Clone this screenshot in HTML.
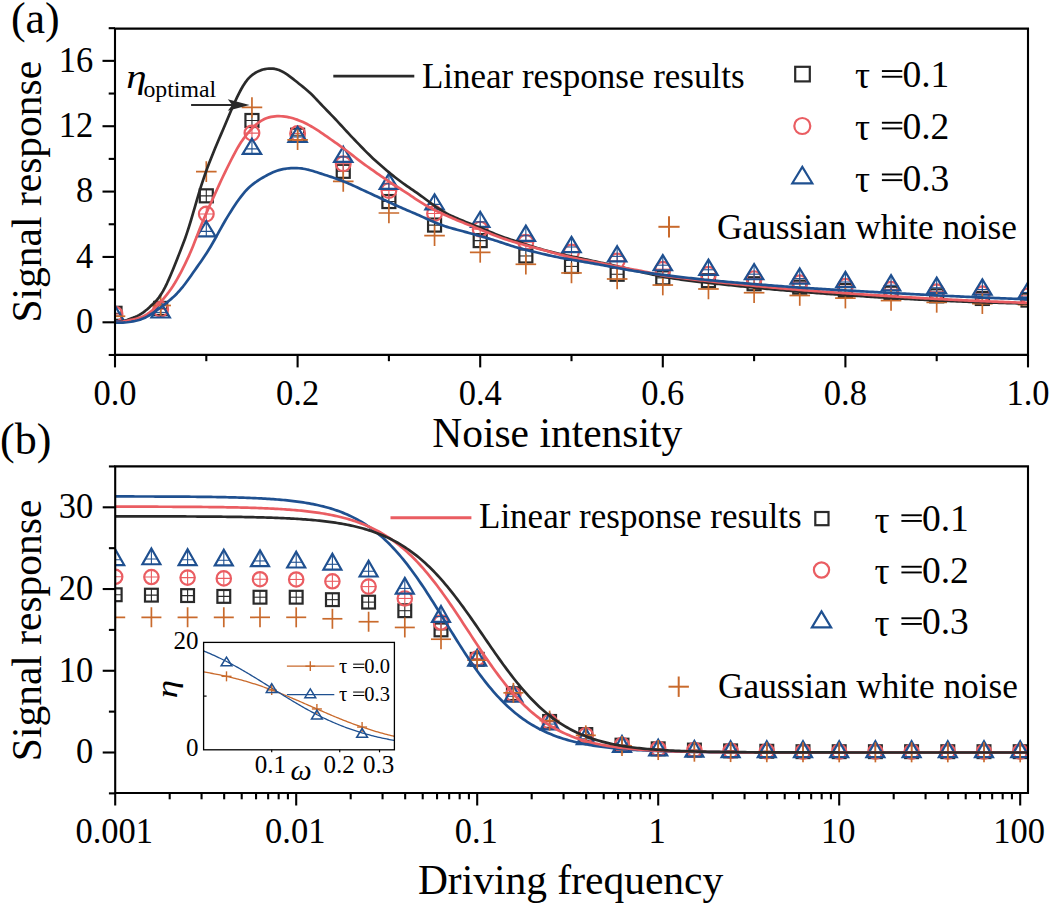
<!DOCTYPE html><html><head><meta charset="utf-8"><title>Signal response</title>
<style>html,body{margin:0;padding:0;background:#fff;overflow:hidden}svg{display:block}text{font-family:"Liberation Serif",serif}</style></head><body>
<svg width="1050" height="905" viewBox="0 0 1050 905" fill="#000">
<rect width="1050" height="905" fill="#fff"/>
<defs><clipPath id="ca"><rect x="115.0" y="28.6" width="913" height="326.3"/></clipPath><clipPath id="cb"><rect x="115.2" y="466.4" width="912.8" height="326.6"/></clipPath></defs>
<g clip-path="url(#ca)">
<rect x="108.5" y="306.81" width="13" height="13" fill="none" stroke="#2a2a2a" stroke-width="2.2"/>
<line x1="108.5" y1="313.31" x2="121.5" y2="313.31" stroke="#2a2a2a" stroke-width="1.1" stroke-linecap="butt"/>
<line x1="115" y1="306.81" x2="115" y2="319.81" stroke="#2a2a2a" stroke-width="1.1" stroke-linecap="butt"/>
<circle cx="115" cy="314.13" r="7.4" fill="none" stroke="#ea5d62" stroke-width="2.2"/>
<line x1="107.6" y1="314.13" x2="122.4" y2="314.13" stroke="#ea5d62" stroke-width="1.1" stroke-linecap="butt"/>
<line x1="115" y1="306.73" x2="115" y2="321.53" stroke="#ea5d62" stroke-width="1.1" stroke-linecap="butt"/>
<polygon points="115,305.88 124.2,321.08 105.8,321.08" fill="none" stroke="#1f5090" stroke-width="2.2" stroke-linejoin="miter"/>
<line x1="115" y1="305.88" x2="115" y2="321.08" stroke="#1f5090" stroke-width="1.1" stroke-linecap="butt"/>
<line x1="108.87" y1="316.01" x2="121.13" y2="316.01" stroke="#1f5090" stroke-width="1.1" stroke-linecap="butt"/>
<line x1="104.7" y1="316.25" x2="125.3" y2="316.25" stroke="#c96a2c" stroke-width="1.7" stroke-linecap="butt"/>
<line x1="115" y1="305.95" x2="115" y2="326.55" stroke="#c96a2c" stroke-width="1.7" stroke-linecap="butt"/>
<rect x="154.15" y="301.91" width="13" height="13" fill="none" stroke="#2a2a2a" stroke-width="2.2"/>
<line x1="154.15" y1="308.41" x2="167.15" y2="308.41" stroke="#2a2a2a" stroke-width="1.1" stroke-linecap="butt"/>
<line x1="160.65" y1="301.91" x2="160.65" y2="314.91" stroke="#2a2a2a" stroke-width="1.1" stroke-linecap="butt"/>
<circle cx="160.65" cy="309.23" r="7.4" fill="none" stroke="#ea5d62" stroke-width="2.2"/>
<line x1="153.25" y1="309.23" x2="168.05" y2="309.23" stroke="#ea5d62" stroke-width="1.1" stroke-linecap="butt"/>
<line x1="160.65" y1="301.83" x2="160.65" y2="316.63" stroke="#ea5d62" stroke-width="1.1" stroke-linecap="butt"/>
<polygon points="160.65,302.28 169.85,317.48 151.45,317.48" fill="none" stroke="#1f5090" stroke-width="2.2" stroke-linejoin="miter"/>
<line x1="160.65" y1="302.28" x2="160.65" y2="317.48" stroke="#1f5090" stroke-width="1.1" stroke-linecap="butt"/>
<line x1="154.52" y1="312.41" x2="166.78" y2="312.41" stroke="#1f5090" stroke-width="1.1" stroke-linecap="butt"/>
<line x1="150.35" y1="305.47" x2="170.95" y2="305.47" stroke="#c96a2c" stroke-width="1.7" stroke-linecap="butt"/>
<line x1="160.65" y1="295.17" x2="160.65" y2="315.77" stroke="#c96a2c" stroke-width="1.7" stroke-linecap="butt"/>
<rect x="199.8" y="189.33" width="13" height="13" fill="none" stroke="#2a2a2a" stroke-width="2.2"/>
<line x1="199.8" y1="195.83" x2="212.8" y2="195.83" stroke="#2a2a2a" stroke-width="1.1" stroke-linecap="butt"/>
<line x1="206.3" y1="189.33" x2="206.3" y2="202.33" stroke="#2a2a2a" stroke-width="1.1" stroke-linecap="butt"/>
<circle cx="206.3" cy="213.97" r="7.4" fill="none" stroke="#ea5d62" stroke-width="2.2"/>
<line x1="198.9" y1="213.97" x2="213.7" y2="213.97" stroke="#ea5d62" stroke-width="1.1" stroke-linecap="butt"/>
<line x1="206.3" y1="206.57" x2="206.3" y2="221.37" stroke="#ea5d62" stroke-width="1.1" stroke-linecap="butt"/>
<polygon points="206.3,221.24 215.5,236.44 197.1,236.44" fill="none" stroke="#1f5090" stroke-width="2.2" stroke-linejoin="miter"/>
<line x1="206.3" y1="221.24" x2="206.3" y2="236.44" stroke="#1f5090" stroke-width="1.1" stroke-linecap="butt"/>
<line x1="200.17" y1="231.37" x2="212.43" y2="231.37" stroke="#1f5090" stroke-width="1.1" stroke-linecap="butt"/>
<line x1="196" y1="171.65" x2="216.6" y2="171.65" stroke="#c96a2c" stroke-width="1.7" stroke-linecap="butt"/>
<line x1="206.3" y1="161.35" x2="206.3" y2="181.95" stroke="#c96a2c" stroke-width="1.7" stroke-linecap="butt"/>
<rect x="245.45" y="114" width="13" height="13" fill="none" stroke="#2a2a2a" stroke-width="2.2"/>
<line x1="245.45" y1="120.5" x2="258.45" y2="120.5" stroke="#2a2a2a" stroke-width="1.1" stroke-linecap="butt"/>
<line x1="251.95" y1="114" x2="251.95" y2="127" stroke="#2a2a2a" stroke-width="1.1" stroke-linecap="butt"/>
<circle cx="251.95" cy="133.08" r="7.4" fill="none" stroke="#ea5d62" stroke-width="2.2"/>
<line x1="244.55" y1="133.08" x2="259.35" y2="133.08" stroke="#ea5d62" stroke-width="1.1" stroke-linecap="butt"/>
<line x1="251.95" y1="125.68" x2="251.95" y2="140.48" stroke="#ea5d62" stroke-width="1.1" stroke-linecap="butt"/>
<polygon points="251.95,138.72 261.15,153.92 242.75,153.92" fill="none" stroke="#1f5090" stroke-width="2.2" stroke-linejoin="miter"/>
<line x1="251.95" y1="138.72" x2="251.95" y2="153.92" stroke="#1f5090" stroke-width="1.1" stroke-linecap="butt"/>
<line x1="245.82" y1="148.85" x2="258.08" y2="148.85" stroke="#1f5090" stroke-width="1.1" stroke-linecap="butt"/>
<line x1="241.65" y1="107.43" x2="262.25" y2="107.43" stroke="#c96a2c" stroke-width="1.7" stroke-linecap="butt"/>
<line x1="251.95" y1="97.13" x2="251.95" y2="117.73" stroke="#c96a2c" stroke-width="1.7" stroke-linecap="butt"/>
<rect x="291.1" y="128.71" width="13" height="13" fill="none" stroke="#2a2a2a" stroke-width="2.2"/>
<line x1="291.1" y1="135.21" x2="304.1" y2="135.21" stroke="#2a2a2a" stroke-width="1.1" stroke-linecap="butt"/>
<line x1="297.6" y1="128.71" x2="297.6" y2="141.71" stroke="#2a2a2a" stroke-width="1.1" stroke-linecap="butt"/>
<circle cx="297.6" cy="133.57" r="7.4" fill="none" stroke="#ea5d62" stroke-width="2.2"/>
<line x1="290.2" y1="133.57" x2="305" y2="133.57" stroke="#ea5d62" stroke-width="1.1" stroke-linecap="butt"/>
<line x1="297.6" y1="126.17" x2="297.6" y2="140.97" stroke="#ea5d62" stroke-width="1.1" stroke-linecap="butt"/>
<polygon points="297.6,126.79 306.8,141.99 288.4,141.99" fill="none" stroke="#1f5090" stroke-width="2.2" stroke-linejoin="miter"/>
<line x1="297.6" y1="126.79" x2="297.6" y2="141.99" stroke="#1f5090" stroke-width="1.1" stroke-linecap="butt"/>
<line x1="291.47" y1="136.92" x2="303.73" y2="136.92" stroke="#1f5090" stroke-width="1.1" stroke-linecap="butt"/>
<line x1="287.3" y1="139.78" x2="307.9" y2="139.78" stroke="#c96a2c" stroke-width="1.7" stroke-linecap="butt"/>
<line x1="297.6" y1="129.48" x2="297.6" y2="150.08" stroke="#c96a2c" stroke-width="1.7" stroke-linecap="butt"/>
<rect x="336.75" y="164.82" width="13" height="13" fill="none" stroke="#2a2a2a" stroke-width="2.2"/>
<line x1="336.75" y1="171.32" x2="349.75" y2="171.32" stroke="#2a2a2a" stroke-width="1.1" stroke-linecap="butt"/>
<line x1="343.25" y1="164.82" x2="343.25" y2="177.82" stroke="#2a2a2a" stroke-width="1.1" stroke-linecap="butt"/>
<circle cx="343.25" cy="163.8" r="7.4" fill="none" stroke="#ea5d62" stroke-width="2.2"/>
<line x1="335.85" y1="163.8" x2="350.65" y2="163.8" stroke="#ea5d62" stroke-width="1.1" stroke-linecap="butt"/>
<line x1="343.25" y1="156.4" x2="343.25" y2="171.2" stroke="#ea5d62" stroke-width="1.1" stroke-linecap="butt"/>
<polygon points="343.25,146.72 352.45,161.92 334.05,161.92" fill="none" stroke="#1f5090" stroke-width="2.2" stroke-linejoin="miter"/>
<line x1="343.25" y1="146.72" x2="343.25" y2="161.92" stroke="#1f5090" stroke-width="1.1" stroke-linecap="butt"/>
<line x1="337.12" y1="156.86" x2="349.38" y2="156.86" stroke="#1f5090" stroke-width="1.1" stroke-linecap="butt"/>
<line x1="332.95" y1="181.45" x2="353.55" y2="181.45" stroke="#c96a2c" stroke-width="1.7" stroke-linecap="butt"/>
<line x1="343.25" y1="171.15" x2="343.25" y2="191.75" stroke="#c96a2c" stroke-width="1.7" stroke-linecap="butt"/>
<rect x="382.4" y="195.05" width="13" height="13" fill="none" stroke="#2a2a2a" stroke-width="2.2"/>
<line x1="382.4" y1="201.55" x2="395.4" y2="201.55" stroke="#2a2a2a" stroke-width="1.1" stroke-linecap="butt"/>
<line x1="388.9" y1="195.05" x2="388.9" y2="208.05" stroke="#2a2a2a" stroke-width="1.1" stroke-linecap="butt"/>
<circle cx="388.9" cy="190.44" r="7.4" fill="none" stroke="#ea5d62" stroke-width="2.2"/>
<line x1="381.5" y1="190.44" x2="396.3" y2="190.44" stroke="#ea5d62" stroke-width="1.1" stroke-linecap="butt"/>
<line x1="388.9" y1="183.04" x2="388.9" y2="197.84" stroke="#ea5d62" stroke-width="1.1" stroke-linecap="butt"/>
<polygon points="388.9,173.69 398.1,188.89 379.7,188.89" fill="none" stroke="#1f5090" stroke-width="2.2" stroke-linejoin="miter"/>
<line x1="388.9" y1="173.69" x2="388.9" y2="188.89" stroke="#1f5090" stroke-width="1.1" stroke-linecap="butt"/>
<line x1="382.77" y1="183.82" x2="395.03" y2="183.82" stroke="#1f5090" stroke-width="1.1" stroke-linecap="butt"/>
<line x1="378.6" y1="212.99" x2="399.2" y2="212.99" stroke="#c96a2c" stroke-width="1.7" stroke-linecap="butt"/>
<line x1="388.9" y1="202.69" x2="388.9" y2="223.29" stroke="#c96a2c" stroke-width="1.7" stroke-linecap="butt"/>
<rect x="428.05" y="218.58" width="13" height="13" fill="none" stroke="#2a2a2a" stroke-width="2.2"/>
<line x1="428.05" y1="225.08" x2="441.05" y2="225.08" stroke="#2a2a2a" stroke-width="1.1" stroke-linecap="butt"/>
<line x1="434.55" y1="218.58" x2="434.55" y2="231.58" stroke="#2a2a2a" stroke-width="1.1" stroke-linecap="butt"/>
<circle cx="434.55" cy="213.48" r="7.4" fill="none" stroke="#ea5d62" stroke-width="2.2"/>
<line x1="427.15" y1="213.48" x2="441.95" y2="213.48" stroke="#ea5d62" stroke-width="1.1" stroke-linecap="butt"/>
<line x1="434.55" y1="206.08" x2="434.55" y2="220.88" stroke="#ea5d62" stroke-width="1.1" stroke-linecap="butt"/>
<polygon points="434.55,194.27 443.75,209.47 425.35,209.47" fill="none" stroke="#1f5090" stroke-width="2.2" stroke-linejoin="miter"/>
<line x1="434.55" y1="194.27" x2="434.55" y2="209.47" stroke="#1f5090" stroke-width="1.1" stroke-linecap="butt"/>
<line x1="428.42" y1="204.41" x2="440.68" y2="204.41" stroke="#1f5090" stroke-width="1.1" stroke-linecap="butt"/>
<line x1="424.25" y1="235.7" x2="444.85" y2="235.7" stroke="#c96a2c" stroke-width="1.7" stroke-linecap="butt"/>
<line x1="434.55" y1="225.4" x2="434.55" y2="246" stroke="#c96a2c" stroke-width="1.7" stroke-linecap="butt"/>
<rect x="473.7" y="234.1" width="13" height="13" fill="none" stroke="#2a2a2a" stroke-width="2.2"/>
<line x1="473.7" y1="240.6" x2="486.7" y2="240.6" stroke="#2a2a2a" stroke-width="1.1" stroke-linecap="butt"/>
<line x1="480.2" y1="234.1" x2="480.2" y2="247.1" stroke="#2a2a2a" stroke-width="1.1" stroke-linecap="butt"/>
<circle cx="480.2" cy="229.16" r="7.4" fill="none" stroke="#ea5d62" stroke-width="2.2"/>
<line x1="472.8" y1="229.16" x2="487.6" y2="229.16" stroke="#ea5d62" stroke-width="1.1" stroke-linecap="butt"/>
<line x1="480.2" y1="221.76" x2="480.2" y2="236.56" stroke="#ea5d62" stroke-width="1.1" stroke-linecap="butt"/>
<polygon points="480.2,211.76 489.4,226.96 471,226.96" fill="none" stroke="#1f5090" stroke-width="2.2" stroke-linejoin="miter"/>
<line x1="480.2" y1="211.76" x2="480.2" y2="226.96" stroke="#1f5090" stroke-width="1.1" stroke-linecap="butt"/>
<line x1="474.07" y1="221.89" x2="486.33" y2="221.89" stroke="#1f5090" stroke-width="1.1" stroke-linecap="butt"/>
<line x1="469.9" y1="252.36" x2="490.5" y2="252.36" stroke="#c96a2c" stroke-width="1.7" stroke-linecap="butt"/>
<line x1="480.2" y1="242.06" x2="480.2" y2="262.66" stroke="#c96a2c" stroke-width="1.7" stroke-linecap="butt"/>
<rect x="519.35" y="249.46" width="13" height="13" fill="none" stroke="#2a2a2a" stroke-width="2.2"/>
<line x1="519.35" y1="255.96" x2="532.35" y2="255.96" stroke="#2a2a2a" stroke-width="1.1" stroke-linecap="butt"/>
<line x1="525.85" y1="249.46" x2="525.85" y2="262.46" stroke="#2a2a2a" stroke-width="1.1" stroke-linecap="butt"/>
<circle cx="525.85" cy="242.23" r="7.4" fill="none" stroke="#ea5d62" stroke-width="2.2"/>
<line x1="518.45" y1="242.23" x2="533.25" y2="242.23" stroke="#ea5d62" stroke-width="1.1" stroke-linecap="butt"/>
<line x1="525.85" y1="234.83" x2="525.85" y2="249.63" stroke="#ea5d62" stroke-width="1.1" stroke-linecap="butt"/>
<polygon points="525.85,225.65 535.05,240.85 516.65,240.85" fill="none" stroke="#1f5090" stroke-width="2.2" stroke-linejoin="miter"/>
<line x1="525.85" y1="225.65" x2="525.85" y2="240.85" stroke="#1f5090" stroke-width="1.1" stroke-linecap="butt"/>
<line x1="519.72" y1="235.78" x2="531.98" y2="235.78" stroke="#1f5090" stroke-width="1.1" stroke-linecap="butt"/>
<line x1="515.55" y1="264.29" x2="536.15" y2="264.29" stroke="#c96a2c" stroke-width="1.7" stroke-linecap="butt"/>
<line x1="525.85" y1="253.99" x2="525.85" y2="274.59" stroke="#c96a2c" stroke-width="1.7" stroke-linecap="butt"/>
<rect x="565" y="259.92" width="13" height="13" fill="none" stroke="#2a2a2a" stroke-width="2.2"/>
<line x1="565" y1="266.42" x2="578" y2="266.42" stroke="#2a2a2a" stroke-width="1.1" stroke-linecap="butt"/>
<line x1="571.5" y1="259.92" x2="571.5" y2="272.92" stroke="#2a2a2a" stroke-width="1.1" stroke-linecap="butt"/>
<circle cx="571.5" cy="252.04" r="7.4" fill="none" stroke="#ea5d62" stroke-width="2.2"/>
<line x1="564.1" y1="252.04" x2="578.9" y2="252.04" stroke="#ea5d62" stroke-width="1.1" stroke-linecap="butt"/>
<line x1="571.5" y1="244.64" x2="571.5" y2="259.44" stroke="#ea5d62" stroke-width="1.1" stroke-linecap="butt"/>
<polygon points="571.5,236.92 580.7,252.12 562.3,252.12" fill="none" stroke="#1f5090" stroke-width="2.2" stroke-linejoin="miter"/>
<line x1="571.5" y1="236.92" x2="571.5" y2="252.12" stroke="#1f5090" stroke-width="1.1" stroke-linecap="butt"/>
<line x1="565.37" y1="247.05" x2="577.63" y2="247.05" stroke="#1f5090" stroke-width="1.1" stroke-linecap="butt"/>
<line x1="561.2" y1="272.95" x2="581.8" y2="272.95" stroke="#c96a2c" stroke-width="1.7" stroke-linecap="butt"/>
<line x1="571.5" y1="262.65" x2="571.5" y2="283.25" stroke="#c96a2c" stroke-width="1.7" stroke-linecap="butt"/>
<rect x="610.65" y="267.76" width="13" height="13" fill="none" stroke="#2a2a2a" stroke-width="2.2"/>
<line x1="610.65" y1="274.26" x2="623.65" y2="274.26" stroke="#2a2a2a" stroke-width="1.1" stroke-linecap="butt"/>
<line x1="617.15" y1="267.76" x2="617.15" y2="280.76" stroke="#2a2a2a" stroke-width="1.1" stroke-linecap="butt"/>
<circle cx="617.15" cy="261.03" r="7.4" fill="none" stroke="#ea5d62" stroke-width="2.2"/>
<line x1="609.75" y1="261.03" x2="624.55" y2="261.03" stroke="#ea5d62" stroke-width="1.1" stroke-linecap="butt"/>
<line x1="617.15" y1="253.63" x2="617.15" y2="268.43" stroke="#ea5d62" stroke-width="1.1" stroke-linecap="butt"/>
<polygon points="617.15,246.24 626.35,261.44 607.95,261.44" fill="none" stroke="#1f5090" stroke-width="2.2" stroke-linejoin="miter"/>
<line x1="617.15" y1="246.24" x2="617.15" y2="261.44" stroke="#1f5090" stroke-width="1.1" stroke-linecap="butt"/>
<line x1="611.02" y1="256.37" x2="623.28" y2="256.37" stroke="#1f5090" stroke-width="1.1" stroke-linecap="butt"/>
<line x1="606.85" y1="279" x2="627.45" y2="279" stroke="#c96a2c" stroke-width="1.7" stroke-linecap="butt"/>
<line x1="617.15" y1="268.7" x2="617.15" y2="289.3" stroke="#c96a2c" stroke-width="1.7" stroke-linecap="butt"/>
<rect x="656.3" y="271.36" width="13" height="13" fill="none" stroke="#2a2a2a" stroke-width="2.2"/>
<line x1="656.3" y1="277.86" x2="669.3" y2="277.86" stroke="#2a2a2a" stroke-width="1.1" stroke-linecap="butt"/>
<line x1="662.8" y1="271.36" x2="662.8" y2="284.36" stroke="#2a2a2a" stroke-width="1.1" stroke-linecap="butt"/>
<circle cx="662.8" cy="269.19" r="7.4" fill="none" stroke="#ea5d62" stroke-width="2.2"/>
<line x1="655.4" y1="269.19" x2="670.2" y2="269.19" stroke="#ea5d62" stroke-width="1.1" stroke-linecap="butt"/>
<line x1="662.8" y1="261.8" x2="662.8" y2="276.59" stroke="#ea5d62" stroke-width="1.1" stroke-linecap="butt"/>
<polygon points="662.8,255.06 672,270.26 653.6,270.26" fill="none" stroke="#1f5090" stroke-width="2.2" stroke-linejoin="miter"/>
<line x1="662.8" y1="255.06" x2="662.8" y2="270.26" stroke="#1f5090" stroke-width="1.1" stroke-linecap="butt"/>
<line x1="656.67" y1="265.19" x2="668.93" y2="265.19" stroke="#1f5090" stroke-width="1.1" stroke-linecap="butt"/>
<line x1="652.5" y1="285.04" x2="673.1" y2="285.04" stroke="#c96a2c" stroke-width="1.7" stroke-linecap="butt"/>
<line x1="662.8" y1="274.74" x2="662.8" y2="295.34" stroke="#c96a2c" stroke-width="1.7" stroke-linecap="butt"/>
<rect x="701.95" y="274.13" width="13" height="13" fill="none" stroke="#2a2a2a" stroke-width="2.2"/>
<line x1="701.95" y1="280.63" x2="714.95" y2="280.63" stroke="#2a2a2a" stroke-width="1.1" stroke-linecap="butt"/>
<line x1="708.45" y1="274.13" x2="708.45" y2="287.13" stroke="#2a2a2a" stroke-width="1.1" stroke-linecap="butt"/>
<circle cx="708.45" cy="274.26" r="7.4" fill="none" stroke="#ea5d62" stroke-width="2.2"/>
<line x1="701.05" y1="274.26" x2="715.85" y2="274.26" stroke="#ea5d62" stroke-width="1.1" stroke-linecap="butt"/>
<line x1="708.45" y1="266.86" x2="708.45" y2="281.66" stroke="#ea5d62" stroke-width="1.1" stroke-linecap="butt"/>
<polygon points="708.45,259.63 717.65,274.83 699.25,274.83" fill="none" stroke="#1f5090" stroke-width="2.2" stroke-linejoin="miter"/>
<line x1="708.45" y1="259.63" x2="708.45" y2="274.83" stroke="#1f5090" stroke-width="1.1" stroke-linecap="butt"/>
<line x1="702.32" y1="269.77" x2="714.58" y2="269.77" stroke="#1f5090" stroke-width="1.1" stroke-linecap="butt"/>
<line x1="698.15" y1="288.97" x2="718.75" y2="288.97" stroke="#c96a2c" stroke-width="1.7" stroke-linecap="butt"/>
<line x1="708.45" y1="278.67" x2="708.45" y2="299.27" stroke="#c96a2c" stroke-width="1.7" stroke-linecap="butt"/>
<rect x="747.6" y="277.24" width="13" height="13" fill="none" stroke="#2a2a2a" stroke-width="2.2"/>
<line x1="747.6" y1="283.74" x2="760.6" y2="283.74" stroke="#2a2a2a" stroke-width="1.1" stroke-linecap="butt"/>
<line x1="754.1" y1="277.24" x2="754.1" y2="290.24" stroke="#2a2a2a" stroke-width="1.1" stroke-linecap="butt"/>
<circle cx="754.1" cy="278.67" r="7.4" fill="none" stroke="#ea5d62" stroke-width="2.2"/>
<line x1="746.7" y1="278.67" x2="761.5" y2="278.67" stroke="#ea5d62" stroke-width="1.1" stroke-linecap="butt"/>
<line x1="754.1" y1="271.27" x2="754.1" y2="286.07" stroke="#ea5d62" stroke-width="1.1" stroke-linecap="butt"/>
<polygon points="754.1,264.05 763.3,279.25 744.9,279.25" fill="none" stroke="#1f5090" stroke-width="2.2" stroke-linejoin="miter"/>
<line x1="754.1" y1="264.05" x2="754.1" y2="279.25" stroke="#1f5090" stroke-width="1.1" stroke-linecap="butt"/>
<line x1="747.97" y1="274.18" x2="760.23" y2="274.18" stroke="#1f5090" stroke-width="1.1" stroke-linecap="butt"/>
<line x1="743.8" y1="292.72" x2="764.4" y2="292.72" stroke="#c96a2c" stroke-width="1.7" stroke-linecap="butt"/>
<line x1="754.1" y1="282.42" x2="754.1" y2="303.02" stroke="#c96a2c" stroke-width="1.7" stroke-linecap="butt"/>
<rect x="793.25" y="280.67" width="13" height="13" fill="none" stroke="#2a2a2a" stroke-width="2.2"/>
<line x1="793.25" y1="287.17" x2="806.25" y2="287.17" stroke="#2a2a2a" stroke-width="1.1" stroke-linecap="butt"/>
<line x1="799.75" y1="280.67" x2="799.75" y2="293.67" stroke="#2a2a2a" stroke-width="1.1" stroke-linecap="butt"/>
<circle cx="799.75" cy="282.76" r="7.4" fill="none" stroke="#ea5d62" stroke-width="2.2"/>
<line x1="792.35" y1="282.76" x2="807.15" y2="282.76" stroke="#ea5d62" stroke-width="1.1" stroke-linecap="butt"/>
<line x1="799.75" y1="275.36" x2="799.75" y2="290.16" stroke="#ea5d62" stroke-width="1.1" stroke-linecap="butt"/>
<polygon points="799.75,268.46 808.95,283.66 790.55,283.66" fill="none" stroke="#1f5090" stroke-width="2.2" stroke-linejoin="miter"/>
<line x1="799.75" y1="268.46" x2="799.75" y2="283.66" stroke="#1f5090" stroke-width="1.1" stroke-linecap="butt"/>
<line x1="793.62" y1="278.59" x2="805.88" y2="278.59" stroke="#1f5090" stroke-width="1.1" stroke-linecap="butt"/>
<line x1="789.45" y1="295.5" x2="810.05" y2="295.5" stroke="#c96a2c" stroke-width="1.7" stroke-linecap="butt"/>
<line x1="799.75" y1="285.2" x2="799.75" y2="305.8" stroke="#c96a2c" stroke-width="1.7" stroke-linecap="butt"/>
<rect x="838.9" y="284.1" width="13" height="13" fill="none" stroke="#2a2a2a" stroke-width="2.2"/>
<line x1="838.9" y1="290.6" x2="851.9" y2="290.6" stroke="#2a2a2a" stroke-width="1.1" stroke-linecap="butt"/>
<line x1="845.4" y1="284.1" x2="845.4" y2="297.1" stroke="#2a2a2a" stroke-width="1.1" stroke-linecap="butt"/>
<circle cx="845.4" cy="286.35" r="7.4" fill="none" stroke="#ea5d62" stroke-width="2.2"/>
<line x1="838" y1="286.35" x2="852.8" y2="286.35" stroke="#ea5d62" stroke-width="1.1" stroke-linecap="butt"/>
<line x1="845.4" y1="278.95" x2="845.4" y2="293.75" stroke="#ea5d62" stroke-width="1.1" stroke-linecap="butt"/>
<polygon points="845.4,271.89 854.6,287.09 836.2,287.09" fill="none" stroke="#1f5090" stroke-width="2.2" stroke-linejoin="miter"/>
<line x1="845.4" y1="271.89" x2="845.4" y2="287.09" stroke="#1f5090" stroke-width="1.1" stroke-linecap="butt"/>
<line x1="839.27" y1="282.02" x2="851.53" y2="282.02" stroke="#1f5090" stroke-width="1.1" stroke-linecap="butt"/>
<line x1="835.1" y1="298.12" x2="855.7" y2="298.12" stroke="#c96a2c" stroke-width="1.7" stroke-linecap="butt"/>
<line x1="845.4" y1="287.82" x2="845.4" y2="308.42" stroke="#c96a2c" stroke-width="1.7" stroke-linecap="butt"/>
<rect x="884.55" y="286.71" width="13" height="13" fill="none" stroke="#2a2a2a" stroke-width="2.2"/>
<line x1="884.55" y1="293.21" x2="897.55" y2="293.21" stroke="#2a2a2a" stroke-width="1.1" stroke-linecap="butt"/>
<line x1="891.05" y1="286.71" x2="891.05" y2="299.71" stroke="#2a2a2a" stroke-width="1.1" stroke-linecap="butt"/>
<circle cx="891.05" cy="289.29" r="7.4" fill="none" stroke="#ea5d62" stroke-width="2.2"/>
<line x1="883.65" y1="289.29" x2="898.45" y2="289.29" stroke="#ea5d62" stroke-width="1.1" stroke-linecap="butt"/>
<line x1="891.05" y1="281.89" x2="891.05" y2="296.69" stroke="#ea5d62" stroke-width="1.1" stroke-linecap="butt"/>
<polygon points="891.05,275.16 900.25,290.36 881.85,290.36" fill="none" stroke="#1f5090" stroke-width="2.2" stroke-linejoin="miter"/>
<line x1="891.05" y1="275.16" x2="891.05" y2="290.36" stroke="#1f5090" stroke-width="1.1" stroke-linecap="butt"/>
<line x1="884.92" y1="285.29" x2="897.18" y2="285.29" stroke="#1f5090" stroke-width="1.1" stroke-linecap="butt"/>
<line x1="880.75" y1="300.57" x2="901.35" y2="300.57" stroke="#c96a2c" stroke-width="1.7" stroke-linecap="butt"/>
<line x1="891.05" y1="290.27" x2="891.05" y2="310.87" stroke="#c96a2c" stroke-width="1.7" stroke-linecap="butt"/>
<rect x="930.2" y="289.33" width="13" height="13" fill="none" stroke="#2a2a2a" stroke-width="2.2"/>
<line x1="930.2" y1="295.83" x2="943.2" y2="295.83" stroke="#2a2a2a" stroke-width="1.1" stroke-linecap="butt"/>
<line x1="936.7" y1="289.33" x2="936.7" y2="302.33" stroke="#2a2a2a" stroke-width="1.1" stroke-linecap="butt"/>
<circle cx="936.7" cy="291.74" r="7.4" fill="none" stroke="#ea5d62" stroke-width="2.2"/>
<line x1="929.3" y1="291.74" x2="944.1" y2="291.74" stroke="#ea5d62" stroke-width="1.1" stroke-linecap="butt"/>
<line x1="936.7" y1="284.34" x2="936.7" y2="299.14" stroke="#ea5d62" stroke-width="1.1" stroke-linecap="butt"/>
<polygon points="936.7,277.61 945.9,292.81 927.5,292.81" fill="none" stroke="#1f5090" stroke-width="2.2" stroke-linejoin="miter"/>
<line x1="936.7" y1="277.61" x2="936.7" y2="292.81" stroke="#1f5090" stroke-width="1.1" stroke-linecap="butt"/>
<line x1="930.57" y1="287.74" x2="942.83" y2="287.74" stroke="#1f5090" stroke-width="1.1" stroke-linecap="butt"/>
<line x1="926.4" y1="302.37" x2="947" y2="302.37" stroke="#c96a2c" stroke-width="1.7" stroke-linecap="butt"/>
<line x1="936.7" y1="292.07" x2="936.7" y2="312.67" stroke="#c96a2c" stroke-width="1.7" stroke-linecap="butt"/>
<rect x="975.85" y="291.94" width="13" height="13" fill="none" stroke="#2a2a2a" stroke-width="2.2"/>
<line x1="975.85" y1="298.44" x2="988.85" y2="298.44" stroke="#2a2a2a" stroke-width="1.1" stroke-linecap="butt"/>
<line x1="982.35" y1="291.94" x2="982.35" y2="304.94" stroke="#2a2a2a" stroke-width="1.1" stroke-linecap="butt"/>
<circle cx="982.35" cy="293.87" r="7.4" fill="none" stroke="#ea5d62" stroke-width="2.2"/>
<line x1="974.95" y1="293.87" x2="989.75" y2="293.87" stroke="#ea5d62" stroke-width="1.1" stroke-linecap="butt"/>
<line x1="982.35" y1="286.47" x2="982.35" y2="301.27" stroke="#ea5d62" stroke-width="1.1" stroke-linecap="butt"/>
<polygon points="982.35,279.41 991.55,294.61 973.15,294.61" fill="none" stroke="#1f5090" stroke-width="2.2" stroke-linejoin="miter"/>
<line x1="982.35" y1="279.41" x2="982.35" y2="294.61" stroke="#1f5090" stroke-width="1.1" stroke-linecap="butt"/>
<line x1="976.22" y1="289.54" x2="988.48" y2="289.54" stroke="#1f5090" stroke-width="1.1" stroke-linecap="butt"/>
<line x1="972.05" y1="303.67" x2="992.65" y2="303.67" stroke="#c96a2c" stroke-width="1.7" stroke-linecap="butt"/>
<line x1="982.35" y1="293.37" x2="982.35" y2="313.97" stroke="#c96a2c" stroke-width="1.7" stroke-linecap="butt"/>
<rect x="1021.5" y="293.58" width="13" height="13" fill="none" stroke="#2a2a2a" stroke-width="2.2"/>
<line x1="1021.5" y1="300.08" x2="1034.5" y2="300.08" stroke="#2a2a2a" stroke-width="1.1" stroke-linecap="butt"/>
<line x1="1028" y1="293.58" x2="1028" y2="306.58" stroke="#2a2a2a" stroke-width="1.1" stroke-linecap="butt"/>
<circle cx="1028" cy="295.83" r="7.4" fill="none" stroke="#ea5d62" stroke-width="2.2"/>
<line x1="1020.6" y1="295.83" x2="1035.4" y2="295.83" stroke="#ea5d62" stroke-width="1.1" stroke-linecap="butt"/>
<line x1="1028" y1="288.43" x2="1028" y2="303.23" stroke="#ea5d62" stroke-width="1.1" stroke-linecap="butt"/>
<polygon points="1028,282.35 1037.2,297.55 1018.8,297.55" fill="none" stroke="#1f5090" stroke-width="2.2" stroke-linejoin="miter"/>
<line x1="1028" y1="282.35" x2="1028" y2="297.55" stroke="#1f5090" stroke-width="1.1" stroke-linecap="butt"/>
<line x1="1021.87" y1="292.48" x2="1034.13" y2="292.48" stroke="#1f5090" stroke-width="1.1" stroke-linecap="butt"/>
<line x1="1017.7" y1="304.65" x2="1038.3" y2="304.65" stroke="#c96a2c" stroke-width="1.7" stroke-linecap="butt"/>
<line x1="1028" y1="294.35" x2="1028" y2="314.95" stroke="#c96a2c" stroke-width="1.7" stroke-linecap="butt"/>
<polyline points="115,322.64 117,322.42 119,322.14 121,321.74 123,321.23 125,320.63 127,319.98 129,319.28 131,318.58 133,317.83 135,317.02 137,316.12 139,315.09 141,313.91 143,312.58 145,311.08 147,309.43 149,307.67 151,305.82 153,303.93 155,301.96 157,299.79 159,297.29 161,294.38 163,291.08 165,287.37 167,283.3 169,278.93 171,274.31 173,269.48 175,264.51 177,259.46 179,254.37 181,249.26 183,244.08 185,238.67 187,232.92 189,226.76 191,220.25 193,213.48 195,206.56 197,199.65 199,192.9 201,186.44 203,180.31 205,174.47 207,168.91 209,163.59 211,158.45 213,153.46 215,148.59 217,143.8 219,139.06 221,134.35 223,129.66 225,124.95 227,120.23 229,115.51 231,110.82 233,106.21 235,101.73 237,97.42 239,93.32 241,89.5 243,86 245,82.9 247,80.18 249,77.88 251,75.96 253,74.37 255,73.03 257,71.88 259,70.92 261,70.14 263,69.53 265,69.08 267,68.77 269,68.6 271,68.56 273,68.67 275,68.95 277,69.42 279,70.07 281,70.91 283,71.92 285,73.1 287,74.4 289,75.81 291,77.3 293,78.85 295,80.44 297,82.06 299,83.68 301,85.3 303,86.91 305,88.55 307,90.23 309,91.98 311,93.83 313,95.79 315,97.85 317,99.97 319,102.1 321,104.23 323,106.32 325,108.4 327,110.46 329,112.52 331,114.59 333,116.67 335,118.78 337,120.91 339,123.07 341,125.25 343,127.43 345,129.61 347,131.78 349,133.92 351,136.05 353,138.16 355,140.26 357,142.34 359,144.42 361,146.49 363,148.54 365,150.58 367,152.6 369,154.58 371,156.52 373,158.42 375,160.26 377,162.06 379,163.83 381,165.58 383,167.3 385,169 387,170.69 389,172.35 391,173.99 393,175.61 395,177.21 397,178.77 399,180.3 401,181.79 403,183.24 405,184.67 407,186.07 409,187.46 411,188.83 413,190.21 415,191.59 417,192.98 419,194.39 421,195.81 423,197.26 425,198.73 427,200.23 429,201.72 431,203.21 433,204.68 435,206.12 437,207.52 439,208.86 441,210.14 443,211.35 445,212.49 447,213.57 449,214.61 451,215.59 453,216.54 455,217.45 457,218.33 459,219.2 461,220.04 463,220.87 465,221.69 467,222.5 469,223.31 471,224.11 473,224.91 475,225.71 477,226.51 479,227.31 481,228.12 483,228.93 485,229.75 487,230.58 489,231.41 491,232.25 493,233.08 495,233.9 497,234.71 499,235.49 501,236.24 503,236.96 505,237.66 507,238.34 509,239.01 511,239.66 513,240.31 515,240.95 517,241.59 519,242.24 521,242.88 523,243.53 525,244.17 527,244.82 529,245.45 531,246.09 533,246.71 535,247.33 537,247.94 539,248.53 541,249.12 543,249.69 545,250.25 547,250.8 549,251.33 551,251.85 553,252.35 555,252.84 557,253.31 559,253.77 561,254.21 563,254.64 565,255.07 567,255.49 569,255.9 571,256.32 573,256.73 575,257.15 577,257.56 579,257.98 581,258.41 583,258.83 585,259.25 587,259.68 589,260.11 591,260.54 593,260.97 595,261.41 597,261.84 599,262.28 601,262.72 603,263.16 605,263.6 607,264.04 609,264.49 611,264.93 613,265.38 615,265.83 617,266.29 619,266.74 621,267.2 623,267.66 625,268.13 627,268.59 629,269.06 631,269.53 633,270 635,270.48 637,270.95 639,271.42 641,271.88 643,272.35 645,272.81 647,273.26 649,273.71 651,274.15 653,274.59 655,275.01 657,275.43 659,275.83 661,276.23 663,276.61 665,276.98 667,277.34 669,277.69 671,278.02 673,278.35 675,278.66 677,278.97 679,279.26 681,279.55 683,279.83 685,280.1 687,280.37 689,280.62 691,280.88 693,281.12 695,281.36 697,281.6 699,281.83 701,282.06 703,282.28 705,282.51 707,282.73 709,282.95 711,283.16 713,283.38 715,283.6 717,283.81 719,284.02 721,284.24 723,284.45 725,284.66 727,284.86 729,285.07 731,285.28 733,285.48 735,285.69 737,285.89 739,286.09 741,286.29 743,286.49 745,286.69 747,286.89 749,287.08 751,287.28 753,287.47 755,287.67 757,287.86 759,288.05 761,288.24 763,288.43 765,288.62 767,288.8 769,288.99 771,289.17 773,289.36 775,289.54 777,289.72 779,289.9 781,290.08 783,290.25 785,290.43 787,290.6 789,290.77 791,290.95 793,291.12 795,291.28 797,291.45 799,291.62 801,291.78 803,291.94 805,292.11 807,292.27 809,292.42 811,292.58 813,292.74 815,292.89 817,293.05 819,293.2 821,293.35 823,293.5 825,293.65 827,293.79 829,293.94 831,294.09 833,294.23 835,294.37 837,294.51 839,294.66 841,294.8 843,294.93 845,295.07 847,295.21 849,295.35 851,295.48 853,295.62 855,295.75 857,295.88 859,296.01 861,296.14 863,296.27 865,296.4 867,296.53 869,296.66 871,296.79 873,296.91 875,297.04 877,297.16 879,297.28 881,297.4 883,297.52 885,297.65 887,297.76 889,297.88 891,298 893,298.12 895,298.23 897,298.35 899,298.46 901,298.57 903,298.68 905,298.8 907,298.91 909,299.02 911,299.12 913,299.23 915,299.34 917,299.44 919,299.55 921,299.65 923,299.75 925,299.86 927,299.96 929,300.06 931,300.16 933,300.26 935,300.35 937,300.45 939,300.54 941,300.64 943,300.73 945,300.82 947,300.91 949,301 951,301.09 953,301.18 955,301.26 957,301.35 959,301.43 961,301.51 963,301.6 965,301.68 967,301.75 969,301.83 971,301.91 973,301.98 975,302.05 977,302.13 979,302.2 981,302.27 983,302.33 985,302.4 987,302.46 989,302.53 991,302.59 993,302.65 995,302.71 997,302.77 999,302.83 1001,302.89 1003,302.94 1005,303 1007,303.05 1009,303.11 1011,303.16 1013,303.21 1015,303.27 1017,303.32 1019,303.37 1021,303.42 1023,303.47 1025,303.52 1027,303.57 1028,303.6" fill="none" stroke="#2a2a2a" stroke-width="2.7" stroke-linejoin="round" stroke-linecap="butt"/>
<polyline points="115,322.39 117,322.21 119,322.02 121,321.79 123,321.5 125,321.16 127,320.78 129,320.36 131,319.92 133,319.45 135,318.96 137,318.45 139,317.89 141,317.26 143,316.49 145,315.53 147,314.35 149,312.98 151,311.43 153,309.72 155,307.87 157,305.91 159,303.83 161,301.65 163,299.35 165,296.95 167,294.44 169,291.8 171,289 173,286.01 175,282.8 177,279.38 179,275.78 181,272.01 183,268.11 185,264.07 187,259.9 189,255.56 191,250.98 193,246.15 195,241.1 197,235.91 199,230.73 201,225.7 203,220.86 205,216.19 207,211.64 209,207.17 211,202.74 213,198.32 215,193.92 217,189.52 219,185.13 221,180.8 223,176.54 225,172.37 227,168.28 229,164.23 231,160.24 233,156.34 235,152.56 237,148.94 239,145.51 241,142.33 243,139.4 245,136.7 247,134.19 249,131.81 251,129.54 253,127.42 255,125.5 257,123.78 259,122.26 261,120.94 263,119.8 265,118.84 267,118.04 269,117.4 271,116.9 273,116.55 275,116.32 277,116.2 279,116.18 281,116.25 283,116.39 285,116.62 287,116.92 289,117.3 291,117.77 293,118.31 295,118.93 297,119.63 299,120.39 301,121.21 303,122.1 305,123.04 307,124.05 309,125.11 311,126.22 313,127.4 315,128.63 317,129.9 319,131.21 321,132.56 323,133.92 325,135.31 327,136.71 329,138.11 331,139.52 333,140.93 335,142.33 337,143.73 339,145.14 341,146.56 343,148 345,149.47 347,150.98 349,152.53 351,154.1 353,155.68 355,157.27 357,158.84 359,160.39 361,161.9 363,163.38 365,164.83 367,166.25 369,167.66 371,169.06 373,170.47 375,171.87 377,173.29 379,174.69 381,176.09 383,177.47 385,178.84 387,180.2 389,181.53 391,182.84 393,184.13 395,185.42 397,186.7 399,187.98 401,189.26 403,190.55 405,191.85 407,193.16 409,194.49 411,195.83 413,197.18 415,198.54 417,199.89 419,201.2 421,202.47 423,203.69 425,204.87 427,206 429,207.1 431,208.16 433,209.19 435,210.2 437,211.18 439,212.14 441,213.08 443,214.01 445,214.93 447,215.83 449,216.72 451,217.59 453,218.46 455,219.31 457,220.15 459,220.98 461,221.8 463,222.62 465,223.42 467,224.22 469,225.02 471,225.82 473,226.61 475,227.41 477,228.22 479,229.02 481,229.84 483,230.66 485,231.48 487,232.3 489,233.12 491,233.92 493,234.72 495,235.5 497,236.27 499,237.01 501,237.74 503,238.44 505,239.12 507,239.79 509,240.43 511,241.06 513,241.68 515,242.28 517,242.87 519,243.44 521,244.01 523,244.56 525,245.11 527,245.65 529,246.18 531,246.72 533,247.25 535,247.79 537,248.33 539,248.87 541,249.41 543,249.96 545,250.51 547,251.06 549,251.61 551,252.16 553,252.71 555,253.26 557,253.8 559,254.34 561,254.87 563,255.4 565,255.91 567,256.4 569,256.87 571,257.33 573,257.76 575,258.18 577,258.58 579,258.98 581,259.37 583,259.75 585,260.13 587,260.51 589,260.89 591,261.28 593,261.67 595,262.06 597,262.46 599,262.86 601,263.26 603,263.67 605,264.08 607,264.48 609,264.89 611,265.3 613,265.71 615,266.11 617,266.51 619,266.91 621,267.3 623,267.68 625,268.06 627,268.43 629,268.78 631,269.14 633,269.49 635,269.84 637,270.19 639,270.55 641,270.92 643,271.3 645,271.7 647,272.12 649,272.55 651,272.98 653,273.42 655,273.86 657,274.29 659,274.71 661,275.1 663,275.47 665,275.82 667,276.14 669,276.43 671,276.71 673,276.96 675,277.21 677,277.44 679,277.67 681,277.89 683,278.12 685,278.34 687,278.57 689,278.81 691,279.05 693,279.3 695,279.54 697,279.79 699,280.04 701,280.29 703,280.53 705,280.77 707,281.01 709,281.24 711,281.46 713,281.67 715,281.88 717,282.09 719,282.29 721,282.49 723,282.69 725,282.88 727,283.08 729,283.27 731,283.47 733,283.66 735,283.86 737,284.06 739,284.26 741,284.46 743,284.66 745,284.87 747,285.07 749,285.27 751,285.47 753,285.67 755,285.87 757,286.06 759,286.26 761,286.45 763,286.65 765,286.84 767,287.02 769,287.21 771,287.4 773,287.58 775,287.76 777,287.94 779,288.12 781,288.3 783,288.48 785,288.65 787,288.82 789,288.99 791,289.16 793,289.33 795,289.49 797,289.66 799,289.82 801,289.98 803,290.14 805,290.29 807,290.45 809,290.6 811,290.75 813,290.9 815,291.05 817,291.2 819,291.35 821,291.49 823,291.64 825,291.78 827,291.92 829,292.06 831,292.2 833,292.34 835,292.48 837,292.62 839,292.76 841,292.9 843,293.04 845,293.17 847,293.31 849,293.45 851,293.58 853,293.72 855,293.86 857,293.99 859,294.13 861,294.26 863,294.4 865,294.53 867,294.67 869,294.8 871,294.93 873,295.07 875,295.2 877,295.33 879,295.46 881,295.59 883,295.72 885,295.85 887,295.98 889,296.11 891,296.24 893,296.36 895,296.49 897,296.62 899,296.74 901,296.86 903,296.99 905,297.11 907,297.23 909,297.35 911,297.47 913,297.59 915,297.71 917,297.83 919,297.94 921,298.06 923,298.17 925,298.28 927,298.4 929,298.51 931,298.62 933,298.73 935,298.84 937,298.94 939,299.05 941,299.15 943,299.26 945,299.36 947,299.46 949,299.56 951,299.67 953,299.76 955,299.86 957,299.96 959,300.06 961,300.15 963,300.25 965,300.34 967,300.43 969,300.53 971,300.62 973,300.71 975,300.8 977,300.88 979,300.97 981,301.06 983,301.14 985,301.23 987,301.31 989,301.39 991,301.48 993,301.56 995,301.64 997,301.72 999,301.8 1001,301.87 1003,301.95 1005,302.03 1007,302.11 1009,302.18 1011,302.26 1013,302.34 1015,302.41 1017,302.49 1019,302.56 1021,302.64 1023,302.71 1025,302.79 1027,302.86 1028,302.9" fill="none" stroke="#ea5d62" stroke-width="2.7" stroke-linejoin="round" stroke-linecap="butt"/>
<polyline points="115,322.42 117,322.53 119,322.61 121,322.64 123,322.6 125,322.47 127,322.28 129,322.02 131,321.71 133,321.35 135,320.95 137,320.5 139,319.97 141,319.35 143,318.6 145,317.71 147,316.67 149,315.5 151,314.24 153,312.93 155,311.58 157,310.18 159,308.73 161,307.23 163,305.68 165,304.1 167,302.48 169,300.83 171,299.13 173,297.36 175,295.46 177,293.44 179,291.28 181,288.98 183,286.54 185,283.97 187,281.28 189,278.5 191,275.67 193,272.82 195,269.97 197,267.12 199,264.27 201,261.41 203,258.51 205,255.56 207,252.5 209,249.31 211,245.99 213,242.54 215,238.98 217,235.34 219,231.68 221,228.05 223,224.5 225,221.04 227,217.67 229,214.39 231,211.18 233,208.06 235,205.03 237,202.09 239,199.27 241,196.58 243,194.05 245,191.69 247,189.54 249,187.58 251,185.79 253,184.16 255,182.65 257,181.25 259,179.94 261,178.69 263,177.48 265,176.32 267,175.22 269,174.17 271,173.2 273,172.31 275,171.51 277,170.79 279,170.16 281,169.62 283,169.16 285,168.79 287,168.49 289,168.28 291,168.13 293,168.06 295,168.06 297,168.12 299,168.25 301,168.45 303,168.71 305,169.04 307,169.45 309,169.93 311,170.46 313,171.05 315,171.67 317,172.31 319,172.97 321,173.62 323,174.27 325,174.93 327,175.59 329,176.24 331,176.9 333,177.57 335,178.24 337,178.94 339,179.65 341,180.39 343,181.17 345,181.97 347,182.81 349,183.67 351,184.55 353,185.45 355,186.36 357,187.29 359,188.23 361,189.17 363,190.11 365,191.04 367,191.97 369,192.9 371,193.82 373,194.73 375,195.65 377,196.58 379,197.5 381,198.44 383,199.37 385,200.31 387,201.24 389,202.18 391,203.1 393,204.03 395,204.94 397,205.84 399,206.73 401,207.61 403,208.48 405,209.33 407,210.18 409,211.02 411,211.87 413,212.72 415,213.57 417,214.44 419,215.31 421,216.2 423,217.11 425,218.02 427,218.93 429,219.83 431,220.73 433,221.6 435,222.45 437,223.28 439,224.07 441,224.82 443,225.53 445,226.2 447,226.84 449,227.45 451,228.04 453,228.61 455,229.17 457,229.71 459,230.25 461,230.79 463,231.32 465,231.86 467,232.4 469,232.94 471,233.49 473,234.03 475,234.58 477,235.14 479,235.7 481,236.26 483,236.84 485,237.41 487,238 489,238.59 491,239.2 493,239.81 495,240.43 497,241.07 499,241.72 501,242.38 503,243.04 505,243.71 507,244.38 509,245.04 511,245.69 513,246.32 515,246.94 517,247.53 519,248.1 521,248.64 523,249.16 525,249.67 527,250.16 529,250.64 531,251.11 533,251.58 535,252.05 537,252.52 539,253 541,253.48 543,253.96 545,254.43 547,254.9 549,255.36 551,255.8 553,256.23 555,256.65 557,257.05 559,257.45 561,257.83 563,258.21 565,258.58 567,258.94 569,259.3 571,259.66 573,260.01 575,260.35 577,260.7 579,261.04 581,261.38 583,261.73 585,262.07 587,262.41 589,262.76 591,263.1 593,263.45 595,263.81 597,264.16 599,264.52 601,264.88 603,265.25 605,265.62 607,265.99 609,266.37 611,266.75 613,267.13 615,267.51 617,267.89 619,268.27 621,268.65 623,269.01 625,269.38 627,269.73 629,270.08 631,270.42 633,270.75 635,271.07 637,271.38 639,271.69 641,271.99 643,272.28 645,272.57 647,272.85 649,273.12 651,273.39 653,273.65 655,273.91 657,274.17 659,274.42 661,274.67 663,274.91 665,275.16 667,275.4 669,275.64 671,275.88 673,276.12 675,276.36 677,276.59 679,276.83 681,277.06 683,277.29 685,277.52 687,277.75 689,277.98 691,278.2 693,278.43 695,278.65 697,278.87 699,279.09 701,279.31 703,279.52 705,279.73 707,279.94 709,280.14 711,280.34 713,280.53 715,280.72 717,280.91 719,281.1 721,281.28 723,281.46 725,281.64 727,281.82 729,281.99 731,282.17 733,282.34 735,282.51 737,282.68 739,282.84 741,283.01 743,283.18 745,283.34 747,283.51 749,283.67 751,283.83 753,284 755,284.16 757,284.32 759,284.48 761,284.64 763,284.8 765,284.96 767,285.12 769,285.28 771,285.44 773,285.6 775,285.75 777,285.91 779,286.06 781,286.21 783,286.37 785,286.52 787,286.67 789,286.81 791,286.96 793,287.11 795,287.25 797,287.39 799,287.53 801,287.67 803,287.8 805,287.94 807,288.07 809,288.2 811,288.33 813,288.46 815,288.59 817,288.71 819,288.84 821,288.96 823,289.08 825,289.21 827,289.33 829,289.45 831,289.56 833,289.68 835,289.8 837,289.92 839,290.03 841,290.15 843,290.26 845,290.38 847,290.49 849,290.61 851,290.72 853,290.83 855,290.95 857,291.06 859,291.17 861,291.29 863,291.4 865,291.51 867,291.63 869,291.74 871,291.85 873,291.96 875,292.07 877,292.18 879,292.29 881,292.4 883,292.51 885,292.62 887,292.73 889,292.84 891,292.95 893,293.06 895,293.17 897,293.28 899,293.38 901,293.49 903,293.6 905,293.71 907,293.81 909,293.92 911,294.03 913,294.13 915,294.24 917,294.34 919,294.45 921,294.55 923,294.66 925,294.76 927,294.86 929,294.97 931,295.07 933,295.17 935,295.28 937,295.38 939,295.48 941,295.58 943,295.68 945,295.78 947,295.88 949,295.98 951,296.07 953,296.17 955,296.27 957,296.36 959,296.46 961,296.55 963,296.65 965,296.74 967,296.83 969,296.93 971,297.02 973,297.11 975,297.19 977,297.28 979,297.37 981,297.46 983,297.54 985,297.63 987,297.71 989,297.79 991,297.88 993,297.96 995,298.04 997,298.12 999,298.2 1001,298.28 1003,298.35 1005,298.43 1007,298.51 1009,298.58 1011,298.66 1013,298.74 1015,298.81 1017,298.89 1019,298.96 1021,299.04 1023,299.11 1025,299.19 1027,299.26 1028,299.3" fill="none" stroke="#1f5090" stroke-width="2.7" stroke-linejoin="round" stroke-linecap="butt"/>
</g>
<g stroke="#000" stroke-width="2.1" fill="none">
<path d="M115.0,354.9 V28.6 H1028.0 V354.9 Z"/>
</g>
<line x1="108.7" y1="354.98" x2="115" y2="354.98" stroke="#000" stroke-width="2.1" stroke-linecap="butt"/>
<line x1="102.5" y1="322.3" x2="115" y2="322.3" stroke="#000" stroke-width="2.1" stroke-linecap="butt"/>
<line x1="108.7" y1="289.62" x2="115" y2="289.62" stroke="#000" stroke-width="2.1" stroke-linecap="butt"/>
<line x1="102.5" y1="256.94" x2="115" y2="256.94" stroke="#000" stroke-width="2.1" stroke-linecap="butt"/>
<line x1="108.7" y1="224.26" x2="115" y2="224.26" stroke="#000" stroke-width="2.1" stroke-linecap="butt"/>
<line x1="102.5" y1="191.58" x2="115" y2="191.58" stroke="#000" stroke-width="2.1" stroke-linecap="butt"/>
<line x1="108.7" y1="158.9" x2="115" y2="158.9" stroke="#000" stroke-width="2.1" stroke-linecap="butt"/>
<line x1="102.5" y1="126.22" x2="115" y2="126.22" stroke="#000" stroke-width="2.1" stroke-linecap="butt"/>
<line x1="108.7" y1="93.54" x2="115" y2="93.54" stroke="#000" stroke-width="2.1" stroke-linecap="butt"/>
<line x1="102.5" y1="60.86" x2="115" y2="60.86" stroke="#000" stroke-width="2.1" stroke-linecap="butt"/>
<line x1="108.7" y1="28.18" x2="115" y2="28.18" stroke="#000" stroke-width="2.1" stroke-linecap="butt"/>
<line x1="115" y1="354.9" x2="115" y2="367.4" stroke="#000" stroke-width="2.1" stroke-linecap="butt"/>
<line x1="206.3" y1="354.9" x2="206.3" y2="361.2" stroke="#000" stroke-width="2.1" stroke-linecap="butt"/>
<line x1="297.6" y1="354.9" x2="297.6" y2="367.4" stroke="#000" stroke-width="2.1" stroke-linecap="butt"/>
<line x1="388.9" y1="354.9" x2="388.9" y2="361.2" stroke="#000" stroke-width="2.1" stroke-linecap="butt"/>
<line x1="480.2" y1="354.9" x2="480.2" y2="367.4" stroke="#000" stroke-width="2.1" stroke-linecap="butt"/>
<line x1="571.5" y1="354.9" x2="571.5" y2="361.2" stroke="#000" stroke-width="2.1" stroke-linecap="butt"/>
<line x1="662.8" y1="354.9" x2="662.8" y2="367.4" stroke="#000" stroke-width="2.1" stroke-linecap="butt"/>
<line x1="754.1" y1="354.9" x2="754.1" y2="361.2" stroke="#000" stroke-width="2.1" stroke-linecap="butt"/>
<line x1="845.4" y1="354.9" x2="845.4" y2="367.4" stroke="#000" stroke-width="2.1" stroke-linecap="butt"/>
<line x1="936.7" y1="354.9" x2="936.7" y2="361.2" stroke="#000" stroke-width="2.1" stroke-linecap="butt"/>
<line x1="1028" y1="354.9" x2="1028" y2="367.4" stroke="#000" stroke-width="2.1" stroke-linecap="butt"/>
<text transform="translate(93.2,333.2) scale(1,1.05)" font-size="34.5" text-anchor="end" >0</text>
<text transform="translate(93.2,267.84) scale(1,1.05)" font-size="34.5" text-anchor="end" >4</text>
<text transform="translate(93.2,202.48) scale(1,1.05)" font-size="34.5" text-anchor="end" >8</text>
<text transform="translate(93.2,137.12) scale(1,1.05)" font-size="34.5" text-anchor="end" >12</text>
<text transform="translate(93.2,71.76) scale(1,1.05)" font-size="34.5" text-anchor="end" >16</text>
<text transform="translate(115,404.6) scale(1,1.05)" font-size="34.5" text-anchor="middle" >0.0</text>
<text transform="translate(297.6,404.6) scale(1,1.05)" font-size="34.5" text-anchor="middle" >0.2</text>
<text transform="translate(480.2,404.6) scale(1,1.05)" font-size="34.5" text-anchor="middle" >0.4</text>
<text transform="translate(662.8,404.6) scale(1,1.05)" font-size="34.5" text-anchor="middle" >0.6</text>
<text transform="translate(845.4,404.6) scale(1,1.05)" font-size="34.5" text-anchor="middle" >0.8</text>
<text transform="translate(1028,404.6) scale(1,1.05)" font-size="34.5" text-anchor="middle" >1.0</text>
<text x="10.9" y="33.1" font-size="44" text-anchor="start" >(a)</text>
<text x="432.2" y="447.2" font-size="41.5" text-anchor="start" >Noise intensity</text>
<text transform="translate(40.8,322.5) rotate(-90)" font-size="41.5">Signal response</text>
<line x1="333.3" y1="76.1" x2="414.3" y2="76.1" stroke="#2a2a2a" stroke-width="2.7" stroke-linecap="butt"/>
<text x="421.9" y="87.5" font-size="35" text-anchor="start" >Linear response results</text>
<rect x="795.2" y="66.8" width="14.6" height="14.6" fill="none" stroke="#2a2a2a" stroke-width="2.2"/>
<circle cx="802.3" cy="126" r="8" fill="none" stroke="#ea5d62" stroke-width="2.2"/>
<polygon points="802.3,166.9 812.3,183.3 792.3,183.3" fill="none" stroke="#1f5090" stroke-width="2.2" stroke-linejoin="miter"/>
<line x1="658.4" y1="226.8" x2="679.6" y2="226.8" stroke="#c96a2c" stroke-width="2.0" stroke-linecap="butt"/>
<line x1="669" y1="216.2" x2="669" y2="237.4" stroke="#c96a2c" stroke-width="2.0" stroke-linecap="butt"/>
<text x="855.07" y="88.3" font-size="37.5" text-anchor="start" >τ</text>
<rect x="881.9" y="70.1" width="20.4" height="1.9"/>
<rect x="881.9" y="75.8" width="20.4" height="1.9"/>
<text x="902.38" y="87.1" font-size="37.5" text-anchor="start" >0.1</text>
<text x="855.07" y="140" font-size="37.5" text-anchor="start" >τ</text>
<rect x="881.9" y="121.8" width="20.4" height="1.9"/>
<rect x="881.9" y="127.5" width="20.4" height="1.9"/>
<text x="902.38" y="138.8" font-size="37.5" text-anchor="start" >0.2</text>
<text x="855.07" y="191.7" font-size="37.5" text-anchor="start" >τ</text>
<rect x="881.9" y="173.5" width="20.4" height="1.9"/>
<rect x="881.9" y="179.2" width="20.4" height="1.9"/>
<text x="902.38" y="190.5" font-size="37.5" text-anchor="start" >0.3</text>
<text x="717" y="238.5" font-size="35.3" text-anchor="start" >Gaussian white noise</text>
<text transform="translate(126.2,88.2) scale(1.24,1)" font-size="33" font-style="italic">η</text>
<text x="143.4" y="97.2" font-size="23.8" text-anchor="start" >optimal</text>
<line x1="191.1" y1="105" x2="232" y2="105" stroke="#2a2a2a" stroke-width="2.0" stroke-linecap="butt"/>
<polygon points="249.6,105 227.8,99.2 232.2,105 227.8,110.8" fill="#2a2a2a"/>
<g clip-path="url(#cb)">
<rect x="108.8" y="588.36" width="12.8" height="12.8" fill="none" stroke="#2a2a2a" stroke-width="2.2"/>
<line x1="108.8" y1="594.76" x2="121.6" y2="594.76" stroke="#2a2a2a" stroke-width="1.1" stroke-linecap="butt"/>
<line x1="115.2" y1="588.36" x2="115.2" y2="601.16" stroke="#2a2a2a" stroke-width="1.1" stroke-linecap="butt"/>
<circle cx="115.2" cy="576.78" r="7.2" fill="none" stroke="#ea5d62" stroke-width="2.2"/>
<line x1="108" y1="576.78" x2="122.4" y2="576.78" stroke="#ea5d62" stroke-width="1.1" stroke-linecap="butt"/>
<line x1="115.2" y1="569.58" x2="115.2" y2="583.98" stroke="#ea5d62" stroke-width="1.1" stroke-linecap="butt"/>
<polygon points="115.2,549.27 124.2,565.07 106.2,565.07" fill="none" stroke="#1f5090" stroke-width="2.2" stroke-linejoin="miter"/>
<line x1="115.2" y1="549.27" x2="115.2" y2="565.07" stroke="#1f5090" stroke-width="1.1" stroke-linecap="butt"/>
<line x1="109.2" y1="559.8" x2="121.2" y2="559.8" stroke="#1f5090" stroke-width="1.1" stroke-linecap="butt"/>
<line x1="105.2" y1="617.32" x2="125.2" y2="617.32" stroke="#c96a2c" stroke-width="1.7" stroke-linecap="butt"/>
<line x1="115.2" y1="607.32" x2="115.2" y2="627.32" stroke="#c96a2c" stroke-width="1.7" stroke-linecap="butt"/>
<rect x="145" y="588.77" width="12.8" height="12.8" fill="none" stroke="#2a2a2a" stroke-width="2.2"/>
<line x1="145" y1="595.17" x2="157.8" y2="595.17" stroke="#2a2a2a" stroke-width="1.1" stroke-linecap="butt"/>
<line x1="151.4" y1="588.77" x2="151.4" y2="601.57" stroke="#2a2a2a" stroke-width="1.1" stroke-linecap="butt"/>
<circle cx="151.4" cy="577.03" r="7.2" fill="none" stroke="#ea5d62" stroke-width="2.2"/>
<line x1="144.2" y1="577.03" x2="158.6" y2="577.03" stroke="#ea5d62" stroke-width="1.1" stroke-linecap="butt"/>
<line x1="151.4" y1="569.83" x2="151.4" y2="584.23" stroke="#ea5d62" stroke-width="1.1" stroke-linecap="butt"/>
<polygon points="151.4,548.45 160.4,564.25 142.4,564.25" fill="none" stroke="#1f5090" stroke-width="2.2" stroke-linejoin="miter"/>
<line x1="151.4" y1="548.45" x2="151.4" y2="564.25" stroke="#1f5090" stroke-width="1.1" stroke-linecap="butt"/>
<line x1="145.4" y1="558.98" x2="157.4" y2="558.98" stroke="#1f5090" stroke-width="1.1" stroke-linecap="butt"/>
<line x1="141.4" y1="617.32" x2="161.4" y2="617.32" stroke="#c96a2c" stroke-width="1.7" stroke-linecap="butt"/>
<line x1="151.4" y1="607.32" x2="151.4" y2="627.32" stroke="#c96a2c" stroke-width="1.7" stroke-linecap="butt"/>
<rect x="181.2" y="589.18" width="12.8" height="12.8" fill="none" stroke="#2a2a2a" stroke-width="2.2"/>
<line x1="181.2" y1="595.58" x2="194" y2="595.58" stroke="#2a2a2a" stroke-width="1.1" stroke-linecap="butt"/>
<line x1="187.6" y1="589.18" x2="187.6" y2="601.98" stroke="#2a2a2a" stroke-width="1.1" stroke-linecap="butt"/>
<circle cx="187.6" cy="577.6" r="7.2" fill="none" stroke="#ea5d62" stroke-width="2.2"/>
<line x1="180.4" y1="577.6" x2="194.8" y2="577.6" stroke="#ea5d62" stroke-width="1.1" stroke-linecap="butt"/>
<line x1="187.6" y1="570.4" x2="187.6" y2="584.8" stroke="#ea5d62" stroke-width="1.1" stroke-linecap="butt"/>
<polygon points="187.6,549.27 196.6,565.07 178.6,565.07" fill="none" stroke="#1f5090" stroke-width="2.2" stroke-linejoin="miter"/>
<line x1="187.6" y1="549.27" x2="187.6" y2="565.07" stroke="#1f5090" stroke-width="1.1" stroke-linecap="butt"/>
<line x1="181.6" y1="559.8" x2="193.6" y2="559.8" stroke="#1f5090" stroke-width="1.1" stroke-linecap="butt"/>
<line x1="177.6" y1="617.32" x2="197.6" y2="617.32" stroke="#c96a2c" stroke-width="1.7" stroke-linecap="butt"/>
<line x1="187.6" y1="607.32" x2="187.6" y2="627.32" stroke="#c96a2c" stroke-width="1.7" stroke-linecap="butt"/>
<rect x="217.4" y="590" width="12.8" height="12.8" fill="none" stroke="#2a2a2a" stroke-width="2.2"/>
<line x1="217.4" y1="596.4" x2="230.2" y2="596.4" stroke="#2a2a2a" stroke-width="1.1" stroke-linecap="butt"/>
<line x1="223.8" y1="590" x2="223.8" y2="602.8" stroke="#2a2a2a" stroke-width="1.1" stroke-linecap="butt"/>
<circle cx="223.8" cy="578.42" r="7.2" fill="none" stroke="#ea5d62" stroke-width="2.2"/>
<line x1="216.6" y1="578.42" x2="231" y2="578.42" stroke="#ea5d62" stroke-width="1.1" stroke-linecap="butt"/>
<line x1="223.8" y1="571.22" x2="223.8" y2="585.62" stroke="#ea5d62" stroke-width="1.1" stroke-linecap="butt"/>
<polygon points="223.8,549.67 232.8,565.47 214.8,565.47" fill="none" stroke="#1f5090" stroke-width="2.2" stroke-linejoin="miter"/>
<line x1="223.8" y1="549.67" x2="223.8" y2="565.47" stroke="#1f5090" stroke-width="1.1" stroke-linecap="butt"/>
<line x1="217.8" y1="560.21" x2="229.8" y2="560.21" stroke="#1f5090" stroke-width="1.1" stroke-linecap="butt"/>
<line x1="213.8" y1="617.32" x2="233.8" y2="617.32" stroke="#c96a2c" stroke-width="1.7" stroke-linecap="butt"/>
<line x1="223.8" y1="607.32" x2="223.8" y2="627.32" stroke="#c96a2c" stroke-width="1.7" stroke-linecap="butt"/>
<rect x="253.6" y="590.81" width="12.8" height="12.8" fill="none" stroke="#2a2a2a" stroke-width="2.2"/>
<line x1="253.6" y1="597.21" x2="266.4" y2="597.21" stroke="#2a2a2a" stroke-width="1.1" stroke-linecap="butt"/>
<line x1="260" y1="590.81" x2="260" y2="603.61" stroke="#2a2a2a" stroke-width="1.1" stroke-linecap="butt"/>
<circle cx="260" cy="579.23" r="7.2" fill="none" stroke="#ea5d62" stroke-width="2.2"/>
<line x1="252.8" y1="579.23" x2="267.2" y2="579.23" stroke="#ea5d62" stroke-width="1.1" stroke-linecap="butt"/>
<line x1="260" y1="572.03" x2="260" y2="586.43" stroke="#ea5d62" stroke-width="1.1" stroke-linecap="butt"/>
<polygon points="260,550.41 269,566.21 251,566.21" fill="none" stroke="#1f5090" stroke-width="2.2" stroke-linejoin="miter"/>
<line x1="260" y1="550.41" x2="260" y2="566.21" stroke="#1f5090" stroke-width="1.1" stroke-linecap="butt"/>
<line x1="254" y1="560.94" x2="266" y2="560.94" stroke="#1f5090" stroke-width="1.1" stroke-linecap="butt"/>
<line x1="250" y1="617.32" x2="270" y2="617.32" stroke="#c96a2c" stroke-width="1.7" stroke-linecap="butt"/>
<line x1="260" y1="607.32" x2="260" y2="627.32" stroke="#c96a2c" stroke-width="1.7" stroke-linecap="butt"/>
<rect x="289.8" y="590.81" width="12.8" height="12.8" fill="none" stroke="#2a2a2a" stroke-width="2.2"/>
<line x1="289.8" y1="597.21" x2="302.6" y2="597.21" stroke="#2a2a2a" stroke-width="1.1" stroke-linecap="butt"/>
<line x1="296.2" y1="590.81" x2="296.2" y2="603.61" stroke="#2a2a2a" stroke-width="1.1" stroke-linecap="butt"/>
<circle cx="296.2" cy="579.48" r="7.2" fill="none" stroke="#ea5d62" stroke-width="2.2"/>
<line x1="289" y1="579.48" x2="303.4" y2="579.48" stroke="#ea5d62" stroke-width="1.1" stroke-linecap="butt"/>
<line x1="296.2" y1="572.28" x2="296.2" y2="586.68" stroke="#ea5d62" stroke-width="1.1" stroke-linecap="butt"/>
<polygon points="296.2,551.72 305.2,567.52 287.2,567.52" fill="none" stroke="#1f5090" stroke-width="2.2" stroke-linejoin="miter"/>
<line x1="296.2" y1="551.72" x2="296.2" y2="567.52" stroke="#1f5090" stroke-width="1.1" stroke-linecap="butt"/>
<line x1="290.2" y1="562.25" x2="302.2" y2="562.25" stroke="#1f5090" stroke-width="1.1" stroke-linecap="butt"/>
<line x1="286.2" y1="617.32" x2="306.2" y2="617.32" stroke="#c96a2c" stroke-width="1.7" stroke-linecap="butt"/>
<line x1="296.2" y1="607.32" x2="296.2" y2="627.32" stroke="#c96a2c" stroke-width="1.7" stroke-linecap="butt"/>
<rect x="326" y="593.26" width="12.8" height="12.8" fill="none" stroke="#2a2a2a" stroke-width="2.2"/>
<line x1="326" y1="599.66" x2="338.8" y2="599.66" stroke="#2a2a2a" stroke-width="1.1" stroke-linecap="butt"/>
<line x1="332.4" y1="593.26" x2="332.4" y2="606.06" stroke="#2a2a2a" stroke-width="1.1" stroke-linecap="butt"/>
<circle cx="332.4" cy="581.28" r="7.2" fill="none" stroke="#ea5d62" stroke-width="2.2"/>
<line x1="325.2" y1="581.28" x2="339.6" y2="581.28" stroke="#ea5d62" stroke-width="1.1" stroke-linecap="butt"/>
<line x1="332.4" y1="574.08" x2="332.4" y2="588.48" stroke="#ea5d62" stroke-width="1.1" stroke-linecap="butt"/>
<polygon points="332.4,553.76 341.4,569.56 323.4,569.56" fill="none" stroke="#1f5090" stroke-width="2.2" stroke-linejoin="miter"/>
<line x1="332.4" y1="553.76" x2="332.4" y2="569.56" stroke="#1f5090" stroke-width="1.1" stroke-linecap="butt"/>
<line x1="326.4" y1="564.29" x2="338.4" y2="564.29" stroke="#1f5090" stroke-width="1.1" stroke-linecap="butt"/>
<line x1="322.4" y1="618.79" x2="342.4" y2="618.79" stroke="#c96a2c" stroke-width="1.7" stroke-linecap="butt"/>
<line x1="332.4" y1="608.79" x2="332.4" y2="628.79" stroke="#c96a2c" stroke-width="1.7" stroke-linecap="butt"/>
<rect x="362.2" y="595.72" width="12.8" height="12.8" fill="none" stroke="#2a2a2a" stroke-width="2.2"/>
<line x1="362.2" y1="602.12" x2="375" y2="602.12" stroke="#2a2a2a" stroke-width="1.1" stroke-linecap="butt"/>
<line x1="368.6" y1="595.72" x2="368.6" y2="608.52" stroke="#2a2a2a" stroke-width="1.1" stroke-linecap="butt"/>
<circle cx="368.6" cy="586.59" r="7.2" fill="none" stroke="#ea5d62" stroke-width="2.2"/>
<line x1="361.4" y1="586.59" x2="375.8" y2="586.59" stroke="#ea5d62" stroke-width="1.1" stroke-linecap="butt"/>
<line x1="368.6" y1="579.39" x2="368.6" y2="593.79" stroke="#ea5d62" stroke-width="1.1" stroke-linecap="butt"/>
<polygon points="368.6,560.71 377.6,576.51 359.6,576.51" fill="none" stroke="#1f5090" stroke-width="2.2" stroke-linejoin="miter"/>
<line x1="368.6" y1="560.71" x2="368.6" y2="576.51" stroke="#1f5090" stroke-width="1.1" stroke-linecap="butt"/>
<line x1="362.6" y1="571.24" x2="374.6" y2="571.24" stroke="#1f5090" stroke-width="1.1" stroke-linecap="butt"/>
<line x1="358.6" y1="621.73" x2="378.6" y2="621.73" stroke="#c96a2c" stroke-width="1.7" stroke-linecap="butt"/>
<line x1="368.6" y1="611.73" x2="368.6" y2="631.73" stroke="#c96a2c" stroke-width="1.7" stroke-linecap="butt"/>
<rect x="398.4" y="604.3" width="12.8" height="12.8" fill="none" stroke="#2a2a2a" stroke-width="2.2"/>
<line x1="398.4" y1="610.7" x2="411.2" y2="610.7" stroke="#2a2a2a" stroke-width="1.1" stroke-linecap="butt"/>
<line x1="404.8" y1="604.3" x2="404.8" y2="617.1" stroke="#2a2a2a" stroke-width="1.1" stroke-linecap="butt"/>
<circle cx="404.8" cy="598.44" r="7.2" fill="none" stroke="#ea5d62" stroke-width="2.2"/>
<line x1="397.6" y1="598.44" x2="412" y2="598.44" stroke="#ea5d62" stroke-width="1.1" stroke-linecap="butt"/>
<line x1="404.8" y1="591.24" x2="404.8" y2="605.64" stroke="#ea5d62" stroke-width="1.1" stroke-linecap="butt"/>
<polygon points="404.8,577.87 413.8,593.67 395.8,593.67" fill="none" stroke="#1f5090" stroke-width="2.2" stroke-linejoin="miter"/>
<line x1="404.8" y1="577.87" x2="404.8" y2="593.67" stroke="#1f5090" stroke-width="1.1" stroke-linecap="butt"/>
<line x1="398.8" y1="588.4" x2="410.8" y2="588.4" stroke="#1f5090" stroke-width="1.1" stroke-linecap="butt"/>
<line x1="394.8" y1="627.45" x2="414.8" y2="627.45" stroke="#c96a2c" stroke-width="1.7" stroke-linecap="butt"/>
<line x1="404.8" y1="617.45" x2="404.8" y2="637.45" stroke="#c96a2c" stroke-width="1.7" stroke-linecap="butt"/>
<rect x="434.6" y="623.5" width="12.8" height="12.8" fill="none" stroke="#2a2a2a" stroke-width="2.2"/>
<line x1="434.6" y1="629.9" x2="447.4" y2="629.9" stroke="#2a2a2a" stroke-width="1.1" stroke-linecap="butt"/>
<line x1="441" y1="623.5" x2="441" y2="636.3" stroke="#2a2a2a" stroke-width="1.1" stroke-linecap="butt"/>
<circle cx="441" cy="622.55" r="7.2" fill="none" stroke="#ea5d62" stroke-width="2.2"/>
<line x1="433.8" y1="622.55" x2="448.2" y2="622.55" stroke="#ea5d62" stroke-width="1.1" stroke-linecap="butt"/>
<line x1="441" y1="615.35" x2="441" y2="629.75" stroke="#ea5d62" stroke-width="1.1" stroke-linecap="butt"/>
<polygon points="441,606.07 450,621.87 432,621.87" fill="none" stroke="#1f5090" stroke-width="2.2" stroke-linejoin="miter"/>
<line x1="441" y1="606.07" x2="441" y2="621.87" stroke="#1f5090" stroke-width="1.1" stroke-linecap="butt"/>
<line x1="435" y1="616.6" x2="447" y2="616.6" stroke="#1f5090" stroke-width="1.1" stroke-linecap="butt"/>
<line x1="431" y1="639.22" x2="451" y2="639.22" stroke="#c96a2c" stroke-width="1.7" stroke-linecap="butt"/>
<line x1="441" y1="629.22" x2="441" y2="649.22" stroke="#c96a2c" stroke-width="1.7" stroke-linecap="butt"/>
<rect x="470.8" y="652.93" width="12.8" height="12.8" fill="none" stroke="#2a2a2a" stroke-width="2.2"/>
<line x1="470.8" y1="659.33" x2="483.6" y2="659.33" stroke="#2a2a2a" stroke-width="1.1" stroke-linecap="butt"/>
<line x1="477.2" y1="652.93" x2="477.2" y2="665.73" stroke="#2a2a2a" stroke-width="1.1" stroke-linecap="butt"/>
<circle cx="477.2" cy="658.51" r="7.2" fill="none" stroke="#ea5d62" stroke-width="2.2"/>
<line x1="470" y1="658.51" x2="484.4" y2="658.51" stroke="#ea5d62" stroke-width="1.1" stroke-linecap="butt"/>
<line x1="477.2" y1="651.31" x2="477.2" y2="665.71" stroke="#ea5d62" stroke-width="1.1" stroke-linecap="butt"/>
<polygon points="477.2,649.79 486.2,665.59 468.2,665.59" fill="none" stroke="#1f5090" stroke-width="2.2" stroke-linejoin="miter"/>
<line x1="477.2" y1="649.79" x2="477.2" y2="665.59" stroke="#1f5090" stroke-width="1.1" stroke-linecap="butt"/>
<line x1="471.2" y1="660.33" x2="483.2" y2="660.33" stroke="#1f5090" stroke-width="1.1" stroke-linecap="butt"/>
<line x1="467.2" y1="660.15" x2="487.2" y2="660.15" stroke="#c96a2c" stroke-width="1.7" stroke-linecap="butt"/>
<line x1="477.2" y1="650.15" x2="477.2" y2="670.15" stroke="#c96a2c" stroke-width="1.7" stroke-linecap="butt"/>
<rect x="507" y="687.25" width="12.8" height="12.8" fill="none" stroke="#2a2a2a" stroke-width="2.2"/>
<line x1="507" y1="693.65" x2="519.8" y2="693.65" stroke="#2a2a2a" stroke-width="1.1" stroke-linecap="butt"/>
<line x1="513.4" y1="687.25" x2="513.4" y2="700.05" stroke="#2a2a2a" stroke-width="1.1" stroke-linecap="butt"/>
<circle cx="513.4" cy="694.47" r="7.2" fill="none" stroke="#ea5d62" stroke-width="2.2"/>
<line x1="506.2" y1="694.47" x2="520.6" y2="694.47" stroke="#ea5d62" stroke-width="1.1" stroke-linecap="butt"/>
<line x1="513.4" y1="687.27" x2="513.4" y2="701.67" stroke="#ea5d62" stroke-width="1.1" stroke-linecap="butt"/>
<polygon points="513.4,685.75 522.4,701.55 504.4,701.55" fill="none" stroke="#1f5090" stroke-width="2.2" stroke-linejoin="miter"/>
<line x1="513.4" y1="685.75" x2="513.4" y2="701.55" stroke="#1f5090" stroke-width="1.1" stroke-linecap="butt"/>
<line x1="507.4" y1="696.29" x2="519.4" y2="696.29" stroke="#1f5090" stroke-width="1.1" stroke-linecap="butt"/>
<line x1="503.4" y1="692.84" x2="523.4" y2="692.84" stroke="#c96a2c" stroke-width="1.7" stroke-linecap="butt"/>
<line x1="513.4" y1="682.84" x2="513.4" y2="702.84" stroke="#c96a2c" stroke-width="1.7" stroke-linecap="butt"/>
<rect x="543.2" y="715.04" width="12.8" height="12.8" fill="none" stroke="#2a2a2a" stroke-width="2.2"/>
<line x1="543.2" y1="721.44" x2="556" y2="721.44" stroke="#2a2a2a" stroke-width="1.1" stroke-linecap="butt"/>
<line x1="549.6" y1="715.04" x2="549.6" y2="727.84" stroke="#2a2a2a" stroke-width="1.1" stroke-linecap="butt"/>
<circle cx="549.6" cy="721.85" r="7.2" fill="none" stroke="#ea5d62" stroke-width="2.2"/>
<line x1="542.4" y1="721.85" x2="556.8" y2="721.85" stroke="#ea5d62" stroke-width="1.1" stroke-linecap="butt"/>
<line x1="549.6" y1="714.65" x2="549.6" y2="729.05" stroke="#ea5d62" stroke-width="1.1" stroke-linecap="butt"/>
<polygon points="549.6,713.54 558.6,729.34 540.6,729.34" fill="none" stroke="#1f5090" stroke-width="2.2" stroke-linejoin="miter"/>
<line x1="549.6" y1="713.54" x2="549.6" y2="729.34" stroke="#1f5090" stroke-width="1.1" stroke-linecap="butt"/>
<line x1="543.6" y1="724.08" x2="555.6" y2="724.08" stroke="#1f5090" stroke-width="1.1" stroke-linecap="butt"/>
<line x1="539.6" y1="720.63" x2="559.6" y2="720.63" stroke="#c96a2c" stroke-width="1.7" stroke-linecap="butt"/>
<line x1="549.6" y1="710.63" x2="549.6" y2="730.63" stroke="#c96a2c" stroke-width="1.7" stroke-linecap="butt"/>
<rect x="579.4" y="728.12" width="12.8" height="12.8" fill="none" stroke="#2a2a2a" stroke-width="2.2"/>
<line x1="579.4" y1="734.52" x2="592.2" y2="734.52" stroke="#2a2a2a" stroke-width="1.1" stroke-linecap="butt"/>
<line x1="585.8" y1="728.12" x2="585.8" y2="740.92" stroke="#2a2a2a" stroke-width="1.1" stroke-linecap="butt"/>
<circle cx="585.8" cy="735.34" r="7.2" fill="none" stroke="#ea5d62" stroke-width="2.2"/>
<line x1="578.6" y1="735.34" x2="593" y2="735.34" stroke="#ea5d62" stroke-width="1.1" stroke-linecap="butt"/>
<line x1="585.8" y1="728.14" x2="585.8" y2="742.54" stroke="#ea5d62" stroke-width="1.1" stroke-linecap="butt"/>
<polygon points="585.8,728.25 594.8,744.05 576.8,744.05" fill="none" stroke="#1f5090" stroke-width="2.2" stroke-linejoin="miter"/>
<line x1="585.8" y1="728.25" x2="585.8" y2="744.05" stroke="#1f5090" stroke-width="1.1" stroke-linecap="butt"/>
<line x1="579.8" y1="738.79" x2="591.8" y2="738.79" stroke="#1f5090" stroke-width="1.1" stroke-linecap="butt"/>
<line x1="575.8" y1="735.34" x2="595.8" y2="735.34" stroke="#c96a2c" stroke-width="1.7" stroke-linecap="butt"/>
<line x1="585.8" y1="725.34" x2="585.8" y2="745.34" stroke="#c96a2c" stroke-width="1.7" stroke-linecap="butt"/>
<rect x="615.6" y="738.74" width="12.8" height="12.8" fill="none" stroke="#2a2a2a" stroke-width="2.2"/>
<line x1="615.6" y1="745.14" x2="628.4" y2="745.14" stroke="#2a2a2a" stroke-width="1.1" stroke-linecap="butt"/>
<line x1="622" y1="738.74" x2="622" y2="751.54" stroke="#2a2a2a" stroke-width="1.1" stroke-linecap="butt"/>
<circle cx="622" cy="745.14" r="7.2" fill="none" stroke="#ea5d62" stroke-width="2.2"/>
<line x1="614.8" y1="745.14" x2="629.2" y2="745.14" stroke="#ea5d62" stroke-width="1.1" stroke-linecap="butt"/>
<line x1="622" y1="737.94" x2="622" y2="752.34" stroke="#ea5d62" stroke-width="1.1" stroke-linecap="butt"/>
<polygon points="622,736.02 631,751.82 613,751.82" fill="none" stroke="#1f5090" stroke-width="2.2" stroke-linejoin="miter"/>
<line x1="622" y1="736.02" x2="622" y2="751.82" stroke="#1f5090" stroke-width="1.1" stroke-linecap="butt"/>
<line x1="616" y1="746.55" x2="628" y2="746.55" stroke="#1f5090" stroke-width="1.1" stroke-linecap="butt"/>
<line x1="612" y1="745.96" x2="632" y2="745.96" stroke="#c96a2c" stroke-width="1.7" stroke-linecap="butt"/>
<line x1="622" y1="735.96" x2="622" y2="755.96" stroke="#c96a2c" stroke-width="1.7" stroke-linecap="butt"/>
<rect x="651.8" y="742.42" width="12.8" height="12.8" fill="none" stroke="#2a2a2a" stroke-width="2.2"/>
<line x1="651.8" y1="748.82" x2="664.6" y2="748.82" stroke="#2a2a2a" stroke-width="1.1" stroke-linecap="butt"/>
<line x1="658.2" y1="742.42" x2="658.2" y2="755.22" stroke="#2a2a2a" stroke-width="1.1" stroke-linecap="butt"/>
<circle cx="658.2" cy="748.82" r="7.2" fill="none" stroke="#ea5d62" stroke-width="2.2"/>
<line x1="651" y1="748.82" x2="665.4" y2="748.82" stroke="#ea5d62" stroke-width="1.1" stroke-linecap="butt"/>
<line x1="658.2" y1="741.62" x2="658.2" y2="756.02" stroke="#ea5d62" stroke-width="1.1" stroke-linecap="butt"/>
<polygon points="658.2,739.7 667.2,755.5 649.2,755.5" fill="none" stroke="#1f5090" stroke-width="2.2" stroke-linejoin="miter"/>
<line x1="658.2" y1="739.7" x2="658.2" y2="755.5" stroke="#1f5090" stroke-width="1.1" stroke-linecap="butt"/>
<line x1="652.2" y1="750.23" x2="664.2" y2="750.23" stroke="#1f5090" stroke-width="1.1" stroke-linecap="butt"/>
<line x1="648.2" y1="750.05" x2="668.2" y2="750.05" stroke="#c96a2c" stroke-width="1.7" stroke-linecap="butt"/>
<line x1="658.2" y1="740.05" x2="658.2" y2="760.05" stroke="#c96a2c" stroke-width="1.7" stroke-linecap="butt"/>
<rect x="688" y="743.65" width="12.8" height="12.8" fill="none" stroke="#2a2a2a" stroke-width="2.2"/>
<line x1="688" y1="750.05" x2="700.8" y2="750.05" stroke="#2a2a2a" stroke-width="1.1" stroke-linecap="butt"/>
<line x1="694.4" y1="743.65" x2="694.4" y2="756.45" stroke="#2a2a2a" stroke-width="1.1" stroke-linecap="butt"/>
<circle cx="694.4" cy="750.05" r="7.2" fill="none" stroke="#ea5d62" stroke-width="2.2"/>
<line x1="687.2" y1="750.05" x2="701.6" y2="750.05" stroke="#ea5d62" stroke-width="1.1" stroke-linecap="butt"/>
<line x1="694.4" y1="742.85" x2="694.4" y2="757.25" stroke="#ea5d62" stroke-width="1.1" stroke-linecap="butt"/>
<polygon points="694.4,740.92 703.4,756.72 685.4,756.72" fill="none" stroke="#1f5090" stroke-width="2.2" stroke-linejoin="miter"/>
<line x1="694.4" y1="740.92" x2="694.4" y2="756.72" stroke="#1f5090" stroke-width="1.1" stroke-linecap="butt"/>
<line x1="688.4" y1="751.46" x2="700.4" y2="751.46" stroke="#1f5090" stroke-width="1.1" stroke-linecap="butt"/>
<line x1="684.4" y1="751.68" x2="704.4" y2="751.68" stroke="#c96a2c" stroke-width="1.7" stroke-linecap="butt"/>
<line x1="694.4" y1="741.68" x2="694.4" y2="761.68" stroke="#c96a2c" stroke-width="1.7" stroke-linecap="butt"/>
<rect x="724.2" y="744.47" width="12.8" height="12.8" fill="none" stroke="#2a2a2a" stroke-width="2.2"/>
<line x1="724.2" y1="750.87" x2="737" y2="750.87" stroke="#2a2a2a" stroke-width="1.1" stroke-linecap="butt"/>
<line x1="730.6" y1="744.47" x2="730.6" y2="757.27" stroke="#2a2a2a" stroke-width="1.1" stroke-linecap="butt"/>
<circle cx="730.6" cy="750.87" r="7.2" fill="none" stroke="#ea5d62" stroke-width="2.2"/>
<line x1="723.4" y1="750.87" x2="737.8" y2="750.87" stroke="#ea5d62" stroke-width="1.1" stroke-linecap="butt"/>
<line x1="730.6" y1="743.67" x2="730.6" y2="758.07" stroke="#ea5d62" stroke-width="1.1" stroke-linecap="butt"/>
<polygon points="730.6,741.33 739.6,757.13 721.6,757.13" fill="none" stroke="#1f5090" stroke-width="2.2" stroke-linejoin="miter"/>
<line x1="730.6" y1="741.33" x2="730.6" y2="757.13" stroke="#1f5090" stroke-width="1.1" stroke-linecap="butt"/>
<line x1="724.6" y1="751.86" x2="736.6" y2="751.86" stroke="#1f5090" stroke-width="1.1" stroke-linecap="butt"/>
<line x1="720.6" y1="752.09" x2="740.6" y2="752.09" stroke="#c96a2c" stroke-width="1.7" stroke-linecap="butt"/>
<line x1="730.6" y1="742.09" x2="730.6" y2="762.09" stroke="#c96a2c" stroke-width="1.7" stroke-linecap="butt"/>
<rect x="760.4" y="744.87" width="12.8" height="12.8" fill="none" stroke="#2a2a2a" stroke-width="2.2"/>
<line x1="760.4" y1="751.27" x2="773.2" y2="751.27" stroke="#2a2a2a" stroke-width="1.1" stroke-linecap="butt"/>
<line x1="766.8" y1="744.87" x2="766.8" y2="757.67" stroke="#2a2a2a" stroke-width="1.1" stroke-linecap="butt"/>
<circle cx="766.8" cy="751.27" r="7.2" fill="none" stroke="#ea5d62" stroke-width="2.2"/>
<line x1="759.6" y1="751.27" x2="774" y2="751.27" stroke="#ea5d62" stroke-width="1.1" stroke-linecap="butt"/>
<line x1="766.8" y1="744.07" x2="766.8" y2="758.47" stroke="#ea5d62" stroke-width="1.1" stroke-linecap="butt"/>
<polygon points="766.8,741.33 775.8,757.13 757.8,757.13" fill="none" stroke="#1f5090" stroke-width="2.2" stroke-linejoin="miter"/>
<line x1="766.8" y1="741.33" x2="766.8" y2="757.13" stroke="#1f5090" stroke-width="1.1" stroke-linecap="butt"/>
<line x1="760.8" y1="751.86" x2="772.8" y2="751.86" stroke="#1f5090" stroke-width="1.1" stroke-linecap="butt"/>
<line x1="756.8" y1="752.25" x2="776.8" y2="752.25" stroke="#c96a2c" stroke-width="1.7" stroke-linecap="butt"/>
<line x1="766.8" y1="742.25" x2="766.8" y2="762.25" stroke="#c96a2c" stroke-width="1.7" stroke-linecap="butt"/>
<rect x="796.6" y="745.28" width="12.8" height="12.8" fill="none" stroke="#2a2a2a" stroke-width="2.2"/>
<line x1="796.6" y1="751.68" x2="809.4" y2="751.68" stroke="#2a2a2a" stroke-width="1.1" stroke-linecap="butt"/>
<line x1="803" y1="745.28" x2="803" y2="758.08" stroke="#2a2a2a" stroke-width="1.1" stroke-linecap="butt"/>
<circle cx="803" cy="751.68" r="7.2" fill="none" stroke="#ea5d62" stroke-width="2.2"/>
<line x1="795.8" y1="751.68" x2="810.2" y2="751.68" stroke="#ea5d62" stroke-width="1.1" stroke-linecap="butt"/>
<line x1="803" y1="744.48" x2="803" y2="758.88" stroke="#ea5d62" stroke-width="1.1" stroke-linecap="butt"/>
<polygon points="803,741.33 812,757.13 794,757.13" fill="none" stroke="#1f5090" stroke-width="2.2" stroke-linejoin="miter"/>
<line x1="803" y1="741.33" x2="803" y2="757.13" stroke="#1f5090" stroke-width="1.1" stroke-linecap="butt"/>
<line x1="797" y1="751.86" x2="809" y2="751.86" stroke="#1f5090" stroke-width="1.1" stroke-linecap="butt"/>
<line x1="793" y1="752.34" x2="813" y2="752.34" stroke="#c96a2c" stroke-width="1.7" stroke-linecap="butt"/>
<line x1="803" y1="742.34" x2="803" y2="762.34" stroke="#c96a2c" stroke-width="1.7" stroke-linecap="butt"/>
<rect x="832.8" y="745.28" width="12.8" height="12.8" fill="none" stroke="#2a2a2a" stroke-width="2.2"/>
<line x1="832.8" y1="751.68" x2="845.6" y2="751.68" stroke="#2a2a2a" stroke-width="1.1" stroke-linecap="butt"/>
<line x1="839.2" y1="745.28" x2="839.2" y2="758.08" stroke="#2a2a2a" stroke-width="1.1" stroke-linecap="butt"/>
<circle cx="839.2" cy="751.68" r="7.2" fill="none" stroke="#ea5d62" stroke-width="2.2"/>
<line x1="832" y1="751.68" x2="846.4" y2="751.68" stroke="#ea5d62" stroke-width="1.1" stroke-linecap="butt"/>
<line x1="839.2" y1="744.48" x2="839.2" y2="758.88" stroke="#ea5d62" stroke-width="1.1" stroke-linecap="butt"/>
<polygon points="839.2,741.33 848.2,757.13 830.2,757.13" fill="none" stroke="#1f5090" stroke-width="2.2" stroke-linejoin="miter"/>
<line x1="839.2" y1="741.33" x2="839.2" y2="757.13" stroke="#1f5090" stroke-width="1.1" stroke-linecap="butt"/>
<line x1="833.2" y1="751.86" x2="845.2" y2="751.86" stroke="#1f5090" stroke-width="1.1" stroke-linecap="butt"/>
<line x1="829.2" y1="752.34" x2="849.2" y2="752.34" stroke="#c96a2c" stroke-width="1.7" stroke-linecap="butt"/>
<line x1="839.2" y1="742.34" x2="839.2" y2="762.34" stroke="#c96a2c" stroke-width="1.7" stroke-linecap="butt"/>
<rect x="869" y="745.28" width="12.8" height="12.8" fill="none" stroke="#2a2a2a" stroke-width="2.2"/>
<line x1="869" y1="751.68" x2="881.8" y2="751.68" stroke="#2a2a2a" stroke-width="1.1" stroke-linecap="butt"/>
<line x1="875.4" y1="745.28" x2="875.4" y2="758.08" stroke="#2a2a2a" stroke-width="1.1" stroke-linecap="butt"/>
<circle cx="875.4" cy="751.68" r="7.2" fill="none" stroke="#ea5d62" stroke-width="2.2"/>
<line x1="868.2" y1="751.68" x2="882.6" y2="751.68" stroke="#ea5d62" stroke-width="1.1" stroke-linecap="butt"/>
<line x1="875.4" y1="744.48" x2="875.4" y2="758.88" stroke="#ea5d62" stroke-width="1.1" stroke-linecap="butt"/>
<polygon points="875.4,741.33 884.4,757.13 866.4,757.13" fill="none" stroke="#1f5090" stroke-width="2.2" stroke-linejoin="miter"/>
<line x1="875.4" y1="741.33" x2="875.4" y2="757.13" stroke="#1f5090" stroke-width="1.1" stroke-linecap="butt"/>
<line x1="869.4" y1="751.86" x2="881.4" y2="751.86" stroke="#1f5090" stroke-width="1.1" stroke-linecap="butt"/>
<line x1="865.4" y1="752.34" x2="885.4" y2="752.34" stroke="#c96a2c" stroke-width="1.7" stroke-linecap="butt"/>
<line x1="875.4" y1="742.34" x2="875.4" y2="762.34" stroke="#c96a2c" stroke-width="1.7" stroke-linecap="butt"/>
<rect x="905.2" y="745.28" width="12.8" height="12.8" fill="none" stroke="#2a2a2a" stroke-width="2.2"/>
<line x1="905.2" y1="751.68" x2="918" y2="751.68" stroke="#2a2a2a" stroke-width="1.1" stroke-linecap="butt"/>
<line x1="911.6" y1="745.28" x2="911.6" y2="758.08" stroke="#2a2a2a" stroke-width="1.1" stroke-linecap="butt"/>
<circle cx="911.6" cy="751.68" r="7.2" fill="none" stroke="#ea5d62" stroke-width="2.2"/>
<line x1="904.4" y1="751.68" x2="918.8" y2="751.68" stroke="#ea5d62" stroke-width="1.1" stroke-linecap="butt"/>
<line x1="911.6" y1="744.48" x2="911.6" y2="758.88" stroke="#ea5d62" stroke-width="1.1" stroke-linecap="butt"/>
<polygon points="911.6,741.33 920.6,757.13 902.6,757.13" fill="none" stroke="#1f5090" stroke-width="2.2" stroke-linejoin="miter"/>
<line x1="911.6" y1="741.33" x2="911.6" y2="757.13" stroke="#1f5090" stroke-width="1.1" stroke-linecap="butt"/>
<line x1="905.6" y1="751.86" x2="917.6" y2="751.86" stroke="#1f5090" stroke-width="1.1" stroke-linecap="butt"/>
<line x1="901.6" y1="752.34" x2="921.6" y2="752.34" stroke="#c96a2c" stroke-width="1.7" stroke-linecap="butt"/>
<line x1="911.6" y1="742.34" x2="911.6" y2="762.34" stroke="#c96a2c" stroke-width="1.7" stroke-linecap="butt"/>
<rect x="941.4" y="745.28" width="12.8" height="12.8" fill="none" stroke="#2a2a2a" stroke-width="2.2"/>
<line x1="941.4" y1="751.68" x2="954.2" y2="751.68" stroke="#2a2a2a" stroke-width="1.1" stroke-linecap="butt"/>
<line x1="947.8" y1="745.28" x2="947.8" y2="758.08" stroke="#2a2a2a" stroke-width="1.1" stroke-linecap="butt"/>
<circle cx="947.8" cy="751.68" r="7.2" fill="none" stroke="#ea5d62" stroke-width="2.2"/>
<line x1="940.6" y1="751.68" x2="955" y2="751.68" stroke="#ea5d62" stroke-width="1.1" stroke-linecap="butt"/>
<line x1="947.8" y1="744.48" x2="947.8" y2="758.88" stroke="#ea5d62" stroke-width="1.1" stroke-linecap="butt"/>
<polygon points="947.8,741.33 956.8,757.13 938.8,757.13" fill="none" stroke="#1f5090" stroke-width="2.2" stroke-linejoin="miter"/>
<line x1="947.8" y1="741.33" x2="947.8" y2="757.13" stroke="#1f5090" stroke-width="1.1" stroke-linecap="butt"/>
<line x1="941.8" y1="751.86" x2="953.8" y2="751.86" stroke="#1f5090" stroke-width="1.1" stroke-linecap="butt"/>
<line x1="937.8" y1="752.34" x2="957.8" y2="752.34" stroke="#c96a2c" stroke-width="1.7" stroke-linecap="butt"/>
<line x1="947.8" y1="742.34" x2="947.8" y2="762.34" stroke="#c96a2c" stroke-width="1.7" stroke-linecap="butt"/>
<rect x="977.6" y="745.28" width="12.8" height="12.8" fill="none" stroke="#2a2a2a" stroke-width="2.2"/>
<line x1="977.6" y1="751.68" x2="990.4" y2="751.68" stroke="#2a2a2a" stroke-width="1.1" stroke-linecap="butt"/>
<line x1="984" y1="745.28" x2="984" y2="758.08" stroke="#2a2a2a" stroke-width="1.1" stroke-linecap="butt"/>
<circle cx="984" cy="751.68" r="7.2" fill="none" stroke="#ea5d62" stroke-width="2.2"/>
<line x1="976.8" y1="751.68" x2="991.2" y2="751.68" stroke="#ea5d62" stroke-width="1.1" stroke-linecap="butt"/>
<line x1="984" y1="744.48" x2="984" y2="758.88" stroke="#ea5d62" stroke-width="1.1" stroke-linecap="butt"/>
<polygon points="984,741.33 993,757.13 975,757.13" fill="none" stroke="#1f5090" stroke-width="2.2" stroke-linejoin="miter"/>
<line x1="984" y1="741.33" x2="984" y2="757.13" stroke="#1f5090" stroke-width="1.1" stroke-linecap="butt"/>
<line x1="978" y1="751.86" x2="990" y2="751.86" stroke="#1f5090" stroke-width="1.1" stroke-linecap="butt"/>
<line x1="974" y1="752.34" x2="994" y2="752.34" stroke="#c96a2c" stroke-width="1.7" stroke-linecap="butt"/>
<line x1="984" y1="742.34" x2="984" y2="762.34" stroke="#c96a2c" stroke-width="1.7" stroke-linecap="butt"/>
<rect x="1013.8" y="745.28" width="12.8" height="12.8" fill="none" stroke="#2a2a2a" stroke-width="2.2"/>
<line x1="1013.8" y1="751.68" x2="1026.6" y2="751.68" stroke="#2a2a2a" stroke-width="1.1" stroke-linecap="butt"/>
<line x1="1020.2" y1="745.28" x2="1020.2" y2="758.08" stroke="#2a2a2a" stroke-width="1.1" stroke-linecap="butt"/>
<circle cx="1020.2" cy="751.68" r="7.2" fill="none" stroke="#ea5d62" stroke-width="2.2"/>
<line x1="1013" y1="751.68" x2="1027.4" y2="751.68" stroke="#ea5d62" stroke-width="1.1" stroke-linecap="butt"/>
<line x1="1020.2" y1="744.48" x2="1020.2" y2="758.88" stroke="#ea5d62" stroke-width="1.1" stroke-linecap="butt"/>
<polygon points="1020.2,741.33 1029.2,757.13 1011.2,757.13" fill="none" stroke="#1f5090" stroke-width="2.2" stroke-linejoin="miter"/>
<line x1="1020.2" y1="741.33" x2="1020.2" y2="757.13" stroke="#1f5090" stroke-width="1.1" stroke-linecap="butt"/>
<line x1="1014.2" y1="751.86" x2="1026.2" y2="751.86" stroke="#1f5090" stroke-width="1.1" stroke-linecap="butt"/>
<line x1="1010.2" y1="752.34" x2="1030.2" y2="752.34" stroke="#c96a2c" stroke-width="1.7" stroke-linecap="butt"/>
<line x1="1020.2" y1="742.34" x2="1020.2" y2="762.34" stroke="#c96a2c" stroke-width="1.7" stroke-linecap="butt"/>
<polyline points="115.2,496.44 117.2,496.45 119.2,496.45 121.2,496.45 123.2,496.45 125.2,496.46 127.2,496.46 129.2,496.46 131.2,496.47 133.2,496.47 135.2,496.48 137.2,496.48 139.2,496.48 141.2,496.49 143.2,496.49 145.2,496.5 147.2,496.5 149.2,496.51 151.2,496.52 153.2,496.52 155.2,496.53 157.2,496.53 159.2,496.54 161.2,496.55 163.2,496.56 165.2,496.57 167.2,496.58 169.2,496.59 171.2,496.6 173.2,496.61 175.2,496.62 177.2,496.63 179.2,496.64 181.2,496.65 183.2,496.67 185.2,496.68 187.2,496.7 189.2,496.71 191.2,496.73 193.2,496.75 195.2,496.77 197.2,496.79 199.2,496.81 201.2,496.83 203.2,496.85 205.2,496.88 207.2,496.9 209.2,496.93 211.2,496.96 213.2,496.99 215.2,497.02 217.2,497.05 219.2,497.09 221.2,497.12 223.2,497.16 225.2,497.2 227.2,497.25 229.2,497.29 231.2,497.34 233.2,497.39 235.2,497.44 237.2,497.5 239.2,497.56 241.2,497.62 243.2,497.68 245.2,497.75 247.2,497.82 249.2,497.9 251.2,497.98 253.2,498.06 255.2,498.15 257.2,498.25 259.2,498.34 261.2,498.45 263.2,498.56 265.2,498.67 267.2,498.79 269.2,498.92 271.2,499.05 273.2,499.2 275.2,499.34 277.2,499.5 279.2,499.66 281.2,499.84 283.2,500.02 285.2,500.21 287.2,500.41 289.2,500.62 291.2,500.85 293.2,501.08 295.2,501.33 297.2,501.59 299.2,501.86 301.2,502.15 303.2,502.45 305.2,502.76 307.2,503.1 309.2,503.45 311.2,503.81 313.2,504.2 315.2,504.6 317.2,505.03 319.2,505.47 321.2,505.94 323.2,506.43 325.2,506.95 327.2,507.49 329.2,508.06 331.2,508.65 333.2,509.28 335.2,509.93 337.2,510.62 339.2,511.33 341.2,512.08 343.2,512.87 345.2,513.69 347.2,514.55 349.2,515.45 351.2,516.39 353.2,517.37 355.2,518.4 357.2,519.47 359.2,520.58 361.2,521.75 363.2,522.96 365.2,524.23 367.2,525.54 369.2,526.91 371.2,528.34 373.2,529.82 375.2,531.36 377.2,532.96 379.2,534.61 381.2,536.33 383.2,538.11 385.2,539.95 387.2,541.86 389.2,543.83 391.2,545.86 393.2,547.96 395.2,550.13 397.2,552.35 399.2,554.65 401.2,557 403.2,559.43 405.2,561.91 407.2,564.45 409.2,567.06 411.2,569.72 413.2,572.45 415.2,575.22 417.2,578.06 419.2,580.94 421.2,583.87 423.2,586.84 425.2,589.86 427.2,592.92 429.2,596.02 431.2,599.15 433.2,602.3 435.2,605.48 437.2,608.69 439.2,611.91 441.2,615.14 443.2,618.38 445.2,621.63 447.2,624.87 449.2,628.12 451.2,631.35 453.2,634.58 455.2,637.78 457.2,640.97 459.2,644.13 461.2,647.27 463.2,650.37 465.2,653.44 467.2,656.47 469.2,659.46 471.2,662.41 473.2,665.31 475.2,668.16 477.2,670.96 479.2,673.7 481.2,676.39 483.2,679.03 485.2,681.6 487.2,684.12 489.2,686.58 491.2,688.97 493.2,691.31 495.2,693.58 497.2,695.79 499.2,697.94 501.2,700.03 503.2,702.05 505.2,704.01 507.2,705.92 509.2,707.76 511.2,709.54 513.2,711.26 515.2,712.93 517.2,714.54 519.2,716.09 521.2,717.59 523.2,719.04 525.2,720.43 527.2,721.77 529.2,723.06 531.2,724.31 533.2,725.5 535.2,726.65 537.2,727.76 539.2,728.82 541.2,729.84 543.2,730.82 545.2,731.76 547.2,732.67 549.2,733.53 551.2,734.36 553.2,735.16 555.2,735.92 557.2,736.66 559.2,737.36 561.2,738.03 563.2,738.67 565.2,739.29 567.2,739.88 569.2,740.44 571.2,740.98 573.2,741.5 575.2,741.99 577.2,742.47 579.2,742.92 581.2,743.35 583.2,743.76 585.2,744.16 587.2,744.54 589.2,744.9 591.2,745.24 593.2,745.57 595.2,745.89 597.2,746.19 599.2,746.48 601.2,746.75 603.2,747.01 605.2,747.26 607.2,747.5 609.2,747.73 611.2,747.95 613.2,748.16 615.2,748.36 617.2,748.55 619.2,748.73 621.2,748.9 623.2,749.07 625.2,749.22 627.2,749.38 629.2,749.52 631.2,749.66 633.2,749.79 635.2,749.91 637.2,750.03 639.2,750.14 641.2,750.25 643.2,750.36 645.2,750.46 647.2,750.55 649.2,750.64 651.2,750.73 653.2,750.81 655.2,750.89 657.2,750.96 659.2,751.03 661.2,751.1 663.2,751.16 665.2,751.23 667.2,751.28 669.2,751.34 671.2,751.39 673.2,751.44 675.2,751.49 677.2,751.54 679.2,751.58 681.2,751.63 683.2,751.67 685.2,751.71 687.2,751.74 689.2,751.78 691.2,751.81 693.2,751.84 695.2,751.87 697.2,751.9 699.2,751.93 701.2,751.96 703.2,751.98 705.2,752.01 707.2,752.03 709.2,752.05 711.2,752.07 713.2,752.09 715.2,752.11 717.2,752.13 719.2,752.14 721.2,752.16 723.2,752.18 725.2,752.19 727.2,752.21 729.2,752.22 731.2,752.23 733.2,752.25 735.2,752.26 737.2,752.27 739.2,752.28 741.2,752.29 743.2,752.3 745.2,752.31 747.2,752.32 749.2,752.33 751.2,752.33 753.2,752.34 755.2,752.35 757.2,752.36 759.2,752.36 761.2,752.37 763.2,752.37 765.2,752.38 767.2,752.39 769.2,752.39 771.2,752.4 773.2,752.4 775.2,752.41 777.2,752.41 779.2,752.41 781.2,752.42 783.2,752.42 785.2,752.43 787.2,752.43 789.2,752.43 791.2,752.44 793.2,752.44 795.2,752.44 797.2,752.44 799.2,752.45 801.2,752.45 803.2,752.45 805.2,752.45 807.2,752.46 809.2,752.46 811.2,752.46 813.2,752.46 815.2,752.46 817.2,752.47 819.2,752.47 821.2,752.47 823.2,752.47 825.2,752.47 827.2,752.47 829.2,752.47 831.2,752.48 833.2,752.48 835.2,752.48 837.2,752.48 839.2,752.48 841.2,752.48 843.2,752.48 845.2,752.48 847.2,752.48 849.2,752.48 851.2,752.48 853.2,752.49 855.2,752.49 857.2,752.49 859.2,752.49 861.2,752.49 863.2,752.49 865.2,752.49 867.2,752.49 869.2,752.49 871.2,752.49 873.2,752.49 875.2,752.49 877.2,752.49 879.2,752.49 881.2,752.49 883.2,752.49 885.2,752.49 887.2,752.49 889.2,752.49 891.2,752.49 893.2,752.49 895.2,752.49 897.2,752.49 899.2,752.5 901.2,752.5 903.2,752.5 905.2,752.5 907.2,752.5 909.2,752.5 911.2,752.5 913.2,752.5 915.2,752.5 917.2,752.5 919.2,752.5 921.2,752.5 923.2,752.5 925.2,752.5 927.2,752.5 929.2,752.5 931.2,752.5 933.2,752.5 935.2,752.5 937.2,752.5 939.2,752.5 941.2,752.5 943.2,752.5 945.2,752.5 947.2,752.5 949.2,752.5 951.2,752.5 953.2,752.5 955.2,752.5 957.2,752.5 959.2,752.5 961.2,752.5 963.2,752.5 965.2,752.5 967.2,752.5 969.2,752.5 971.2,752.5 973.2,752.5 975.2,752.5 977.2,752.5 979.2,752.5 981.2,752.5 983.2,752.5 985.2,752.5 987.2,752.5 989.2,752.5 991.2,752.5 993.2,752.5 995.2,752.5 997.2,752.5 999.2,752.5 1001.2,752.5 1003.2,752.5 1005.2,752.5 1007.2,752.5 1009.2,752.5 1011.2,752.5 1013.2,752.5 1015.2,752.5 1017.2,752.5 1019.2,752.5 1021.2,752.5 1023.2,752.5 1025.2,752.5 1027.2,752.5" fill="none" stroke="#1f5090" stroke-width="2.7" stroke-linejoin="round" stroke-linecap="butt"/>
<polyline points="115.2,506.64 117.2,506.65 119.2,506.65 121.2,506.65 123.2,506.65 125.2,506.66 127.2,506.66 129.2,506.66 131.2,506.67 133.2,506.67 135.2,506.67 137.2,506.68 139.2,506.68 141.2,506.68 143.2,506.69 145.2,506.69 147.2,506.7 149.2,506.7 151.2,506.71 153.2,506.71 155.2,506.72 157.2,506.72 159.2,506.73 161.2,506.74 163.2,506.74 165.2,506.75 167.2,506.76 169.2,506.77 171.2,506.77 173.2,506.78 175.2,506.79 177.2,506.8 179.2,506.81 181.2,506.82 183.2,506.83 185.2,506.85 187.2,506.86 189.2,506.87 191.2,506.88 193.2,506.9 195.2,506.91 197.2,506.93 199.2,506.95 201.2,506.96 203.2,506.98 205.2,507 207.2,507.02 209.2,507.04 211.2,507.06 213.2,507.09 215.2,507.11 217.2,507.14 219.2,507.16 221.2,507.19 223.2,507.22 225.2,507.25 227.2,507.28 229.2,507.32 231.2,507.35 233.2,507.39 235.2,507.43 237.2,507.47 239.2,507.52 241.2,507.56 243.2,507.61 245.2,507.66 247.2,507.71 249.2,507.77 251.2,507.83 253.2,507.89 255.2,507.95 257.2,508.02 259.2,508.09 261.2,508.16 263.2,508.24 265.2,508.32 267.2,508.41 269.2,508.5 271.2,508.59 273.2,508.69 275.2,508.79 277.2,508.9 279.2,509.02 281.2,509.14 283.2,509.26 285.2,509.39 287.2,509.53 289.2,509.68 291.2,509.83 293.2,509.99 295.2,510.16 297.2,510.33 299.2,510.51 301.2,510.71 303.2,510.91 305.2,511.12 307.2,511.34 309.2,511.57 311.2,511.82 313.2,512.07 315.2,512.34 317.2,512.62 319.2,512.91 321.2,513.22 323.2,513.54 325.2,513.88 327.2,514.23 329.2,514.6 331.2,514.99 333.2,515.4 335.2,515.82 337.2,516.26 339.2,516.73 341.2,517.21 343.2,517.72 345.2,518.25 347.2,518.8 349.2,519.38 351.2,519.99 353.2,520.62 355.2,521.28 357.2,521.97 359.2,522.69 361.2,523.44 363.2,524.22 365.2,525.04 367.2,525.89 369.2,526.78 371.2,527.71 373.2,528.67 375.2,529.67 377.2,530.72 379.2,531.8 381.2,532.93 383.2,534.1 385.2,535.32 387.2,536.59 389.2,537.9 391.2,539.27 393.2,540.68 395.2,542.15 397.2,543.66 399.2,545.23 401.2,546.86 403.2,548.54 405.2,550.27 407.2,552.07 409.2,553.91 411.2,555.82 413.2,557.78 415.2,559.81 417.2,561.88 419.2,564.02 421.2,566.22 423.2,568.47 425.2,570.78 427.2,573.14 429.2,575.56 431.2,578.03 433.2,580.56 435.2,583.14 437.2,585.77 439.2,588.44 441.2,591.16 443.2,593.93 445.2,596.73 447.2,599.58 449.2,602.46 451.2,605.38 453.2,608.32 455.2,611.29 457.2,614.29 459.2,617.31 461.2,620.34 463.2,623.39 465.2,626.44 467.2,629.5 469.2,632.57 471.2,635.63 473.2,638.69 475.2,641.74 477.2,644.77 479.2,647.79 481.2,650.79 483.2,653.77 485.2,656.71 487.2,659.63 489.2,662.52 491.2,665.36 493.2,668.17 495.2,670.94 497.2,673.66 499.2,676.34 501.2,678.97 503.2,681.54 505.2,684.07 507.2,686.54 509.2,688.95 511.2,691.31 513.2,693.61 515.2,695.85 517.2,698.03 519.2,700.16 521.2,702.22 523.2,704.23 525.2,706.17 527.2,708.06 529.2,709.89 531.2,711.65 533.2,713.36 535.2,715.02 537.2,716.61 539.2,718.15 541.2,719.64 543.2,721.07 545.2,722.45 547.2,723.78 549.2,725.06 551.2,726.28 553.2,727.46 555.2,728.6 557.2,729.69 559.2,730.73 561.2,731.73 563.2,732.69 565.2,733.61 567.2,734.49 569.2,735.33 571.2,736.14 573.2,736.91 575.2,737.65 577.2,738.36 579.2,739.03 581.2,739.68 583.2,740.29 585.2,740.88 587.2,741.44 589.2,741.97 591.2,742.49 593.2,742.97 595.2,743.44 597.2,743.88 599.2,744.3 601.2,744.7 603.2,745.09 605.2,745.45 607.2,745.8 609.2,746.13 611.2,746.45 613.2,746.75 615.2,747.03 617.2,747.3 619.2,747.56 621.2,747.81 623.2,748.04 625.2,748.26 627.2,748.48 629.2,748.68 631.2,748.87 633.2,749.05 635.2,749.22 637.2,749.39 639.2,749.55 641.2,749.69 643.2,749.84 645.2,749.97 647.2,750.1 649.2,750.22 651.2,750.33 653.2,750.44 655.2,750.55 657.2,750.65 659.2,750.74 661.2,750.83 663.2,750.91 665.2,750.99 667.2,751.07 669.2,751.14 671.2,751.21 673.2,751.28 675.2,751.34 677.2,751.4 679.2,751.45 681.2,751.51 683.2,751.56 685.2,751.61 687.2,751.65 689.2,751.69 691.2,751.74 693.2,751.77 695.2,751.81 697.2,751.85 699.2,751.88 701.2,751.91 703.2,751.94 705.2,751.97 707.2,752 709.2,752.02 711.2,752.05 713.2,752.07 715.2,752.09 717.2,752.11 719.2,752.13 721.2,752.15 723.2,752.17 725.2,752.19 727.2,752.2 729.2,752.22 731.2,752.23 733.2,752.25 735.2,752.26 737.2,752.27 739.2,752.28 741.2,752.29 743.2,752.3 745.2,752.31 747.2,752.32 749.2,752.33 751.2,752.34 753.2,752.35 755.2,752.36 757.2,752.36 759.2,752.37 761.2,752.38 763.2,752.38 765.2,752.39 767.2,752.4 769.2,752.4 771.2,752.41 773.2,752.41 775.2,752.42 777.2,752.42 779.2,752.42 781.2,752.43 783.2,752.43 785.2,752.43 787.2,752.44 789.2,752.44 791.2,752.44 793.2,752.45 795.2,752.45 797.2,752.45 799.2,752.45 801.2,752.46 803.2,752.46 805.2,752.46 807.2,752.46 809.2,752.47 811.2,752.47 813.2,752.47 815.2,752.47 817.2,752.47 819.2,752.47 821.2,752.47 823.2,752.48 825.2,752.48 827.2,752.48 829.2,752.48 831.2,752.48 833.2,752.48 835.2,752.48 837.2,752.48 839.2,752.48 841.2,752.48 843.2,752.49 845.2,752.49 847.2,752.49 849.2,752.49 851.2,752.49 853.2,752.49 855.2,752.49 857.2,752.49 859.2,752.49 861.2,752.49 863.2,752.49 865.2,752.49 867.2,752.49 869.2,752.49 871.2,752.49 873.2,752.49 875.2,752.49 877.2,752.49 879.2,752.49 881.2,752.49 883.2,752.5 885.2,752.5 887.2,752.5 889.2,752.5 891.2,752.5 893.2,752.5 895.2,752.5 897.2,752.5 899.2,752.5 901.2,752.5 903.2,752.5 905.2,752.5 907.2,752.5 909.2,752.5 911.2,752.5 913.2,752.5 915.2,752.5 917.2,752.5 919.2,752.5 921.2,752.5 923.2,752.5 925.2,752.5 927.2,752.5 929.2,752.5 931.2,752.5 933.2,752.5 935.2,752.5 937.2,752.5 939.2,752.5 941.2,752.5 943.2,752.5 945.2,752.5 947.2,752.5 949.2,752.5 951.2,752.5 953.2,752.5 955.2,752.5 957.2,752.5 959.2,752.5 961.2,752.5 963.2,752.5 965.2,752.5 967.2,752.5 969.2,752.5 971.2,752.5 973.2,752.5 975.2,752.5 977.2,752.5 979.2,752.5 981.2,752.5 983.2,752.5 985.2,752.5 987.2,752.5 989.2,752.5 991.2,752.5 993.2,752.5 995.2,752.5 997.2,752.5 999.2,752.5 1001.2,752.5 1003.2,752.5 1005.2,752.5 1007.2,752.5 1009.2,752.5 1011.2,752.5 1013.2,752.5 1015.2,752.5 1017.2,752.5 1019.2,752.5 1021.2,752.5 1023.2,752.5 1025.2,752.5 1027.2,752.5" fill="none" stroke="#ea5d62" stroke-width="2.7" stroke-linejoin="round" stroke-linecap="butt"/>
<polyline points="115.2,516.33 117.2,516.33 119.2,516.34 121.2,516.34 123.2,516.34 125.2,516.34 127.2,516.34 129.2,516.35 131.2,516.35 133.2,516.35 135.2,516.35 137.2,516.35 139.2,516.36 141.2,516.36 143.2,516.36 145.2,516.37 147.2,516.37 149.2,516.37 151.2,516.38 153.2,516.38 155.2,516.38 157.2,516.39 159.2,516.39 161.2,516.4 163.2,516.4 165.2,516.41 167.2,516.41 169.2,516.42 171.2,516.42 173.2,516.43 175.2,516.44 177.2,516.44 179.2,516.45 181.2,516.46 183.2,516.47 185.2,516.47 187.2,516.48 189.2,516.49 191.2,516.5 193.2,516.51 195.2,516.52 197.2,516.53 199.2,516.54 201.2,516.56 203.2,516.57 205.2,516.58 207.2,516.6 209.2,516.61 211.2,516.63 213.2,516.64 215.2,516.66 217.2,516.68 219.2,516.7 221.2,516.72 223.2,516.74 225.2,516.76 227.2,516.78 229.2,516.8 231.2,516.83 233.2,516.86 235.2,516.88 237.2,516.91 239.2,516.94 241.2,516.97 243.2,517.01 245.2,517.04 247.2,517.08 249.2,517.12 251.2,517.16 253.2,517.2 255.2,517.24 257.2,517.29 259.2,517.34 261.2,517.39 263.2,517.45 265.2,517.5 267.2,517.56 269.2,517.62 271.2,517.69 273.2,517.76 275.2,517.83 277.2,517.9 279.2,517.98 281.2,518.07 283.2,518.15 285.2,518.24 287.2,518.34 289.2,518.44 291.2,518.54 293.2,518.65 295.2,518.77 297.2,518.89 299.2,519.02 301.2,519.15 303.2,519.29 305.2,519.44 307.2,519.59 309.2,519.75 311.2,519.92 313.2,520.09 315.2,520.28 317.2,520.47 319.2,520.68 321.2,520.89 323.2,521.11 325.2,521.35 327.2,521.59 329.2,521.85 331.2,522.11 333.2,522.4 335.2,522.69 337.2,523 339.2,523.32 341.2,523.66 343.2,524.01 345.2,524.38 347.2,524.77 349.2,525.17 351.2,525.59 353.2,526.03 355.2,526.5 357.2,526.98 359.2,527.49 361.2,528.01 363.2,528.56 365.2,529.14 367.2,529.74 369.2,530.37 371.2,531.02 373.2,531.71 375.2,532.42 377.2,533.16 379.2,533.94 381.2,534.75 383.2,535.59 385.2,536.47 387.2,537.38 389.2,538.33 391.2,539.32 393.2,540.35 395.2,541.42 397.2,542.53 399.2,543.68 401.2,544.88 403.2,546.12 405.2,547.41 407.2,548.75 409.2,550.13 411.2,551.57 413.2,553.05 415.2,554.59 417.2,556.18 419.2,557.82 421.2,559.51 423.2,561.25 425.2,563.05 427.2,564.91 429.2,566.82 431.2,568.78 433.2,570.8 435.2,572.88 437.2,575 439.2,577.18 441.2,579.42 443.2,581.71 445.2,584.04 447.2,586.43 449.2,588.87 451.2,591.36 453.2,593.89 455.2,596.46 457.2,599.08 459.2,601.74 461.2,604.44 463.2,607.17 465.2,609.93 467.2,612.73 469.2,615.55 471.2,618.39 473.2,621.26 475.2,624.14 477.2,627.04 479.2,629.95 481.2,632.87 483.2,635.79 485.2,638.71 487.2,641.62 489.2,644.53 491.2,647.43 493.2,650.32 495.2,653.19 497.2,656.04 499.2,658.87 501.2,661.66 503.2,664.43 505.2,667.17 507.2,669.87 509.2,672.53 511.2,675.16 513.2,677.74 515.2,680.27 517.2,682.76 519.2,685.2 521.2,687.59 523.2,689.92 525.2,692.21 527.2,694.44 529.2,696.62 531.2,698.74 533.2,700.8 535.2,702.81 537.2,704.76 539.2,706.66 541.2,708.5 543.2,710.28 545.2,712.01 547.2,713.68 549.2,715.3 551.2,716.86 553.2,718.38 555.2,719.83 557.2,721.24 559.2,722.59 561.2,723.9 563.2,725.16 565.2,726.37 567.2,727.53 569.2,728.65 571.2,729.72 573.2,730.75 575.2,731.74 577.2,732.69 579.2,733.6 581.2,734.47 583.2,735.31 585.2,736.11 587.2,736.87 589.2,737.61 591.2,738.31 593.2,738.98 595.2,739.62 597.2,740.23 599.2,740.82 601.2,741.38 603.2,741.91 605.2,742.42 607.2,742.91 609.2,743.37 611.2,743.81 613.2,744.23 615.2,744.64 617.2,745.02 619.2,745.38 621.2,745.73 623.2,746.06 625.2,746.38 627.2,746.68 629.2,746.97 631.2,747.24 633.2,747.5 635.2,747.75 637.2,747.98 639.2,748.21 641.2,748.42 643.2,748.62 645.2,748.82 647.2,749 649.2,749.17 651.2,749.34 653.2,749.5 655.2,749.65 657.2,749.79 659.2,749.93 661.2,750.05 663.2,750.18 665.2,750.29 667.2,750.4 669.2,750.51 671.2,750.61 673.2,750.7 675.2,750.8 677.2,750.88 679.2,750.96 681.2,751.04 683.2,751.11 685.2,751.18 687.2,751.25 689.2,751.31 691.2,751.37 693.2,751.43 695.2,751.48 697.2,751.53 699.2,751.58 701.2,751.63 703.2,751.67 705.2,751.72 707.2,751.76 709.2,751.79 711.2,751.83 713.2,751.86 715.2,751.9 717.2,751.93 719.2,751.95 721.2,751.98 723.2,752.01 725.2,752.03 727.2,752.06 729.2,752.08 731.2,752.1 733.2,752.12 735.2,752.14 737.2,752.16 739.2,752.18 741.2,752.19 743.2,752.21 745.2,752.22 747.2,752.24 749.2,752.25 751.2,752.26 753.2,752.27 755.2,752.29 757.2,752.3 759.2,752.31 761.2,752.32 763.2,752.33 765.2,752.34 767.2,752.34 769.2,752.35 771.2,752.36 773.2,752.37 775.2,752.37 777.2,752.38 779.2,752.39 781.2,752.39 783.2,752.4 785.2,752.4 787.2,752.41 789.2,752.41 791.2,752.42 793.2,752.42 795.2,752.42 797.2,752.43 799.2,752.43 801.2,752.44 803.2,752.44 805.2,752.44 807.2,752.44 809.2,752.45 811.2,752.45 813.2,752.45 815.2,752.46 817.2,752.46 819.2,752.46 821.2,752.46 823.2,752.46 825.2,752.47 827.2,752.47 829.2,752.47 831.2,752.47 833.2,752.47 835.2,752.47 837.2,752.47 839.2,752.48 841.2,752.48 843.2,752.48 845.2,752.48 847.2,752.48 849.2,752.48 851.2,752.48 853.2,752.48 855.2,752.48 857.2,752.49 859.2,752.49 861.2,752.49 863.2,752.49 865.2,752.49 867.2,752.49 869.2,752.49 871.2,752.49 873.2,752.49 875.2,752.49 877.2,752.49 879.2,752.49 881.2,752.49 883.2,752.49 885.2,752.49 887.2,752.49 889.2,752.49 891.2,752.49 893.2,752.49 895.2,752.49 897.2,752.49 899.2,752.49 901.2,752.5 903.2,752.5 905.2,752.5 907.2,752.5 909.2,752.5 911.2,752.5 913.2,752.5 915.2,752.5 917.2,752.5 919.2,752.5 921.2,752.5 923.2,752.5 925.2,752.5 927.2,752.5 929.2,752.5 931.2,752.5 933.2,752.5 935.2,752.5 937.2,752.5 939.2,752.5 941.2,752.5 943.2,752.5 945.2,752.5 947.2,752.5 949.2,752.5 951.2,752.5 953.2,752.5 955.2,752.5 957.2,752.5 959.2,752.5 961.2,752.5 963.2,752.5 965.2,752.5 967.2,752.5 969.2,752.5 971.2,752.5 973.2,752.5 975.2,752.5 977.2,752.5 979.2,752.5 981.2,752.5 983.2,752.5 985.2,752.5 987.2,752.5 989.2,752.5 991.2,752.5 993.2,752.5 995.2,752.5 997.2,752.5 999.2,752.5 1001.2,752.5 1003.2,752.5 1005.2,752.5 1007.2,752.5 1009.2,752.5 1011.2,752.5 1013.2,752.5 1015.2,752.5 1017.2,752.5 1019.2,752.5 1021.2,752.5 1023.2,752.5 1025.2,752.5 1027.2,752.5" fill="none" stroke="#2a2a2a" stroke-width="2.7" stroke-linejoin="round" stroke-linecap="butt"/>
</g>
<g stroke="#000" stroke-width="2.1" fill="none">
<path d="M115.2,793.0 V466.4 H1028.0 V793.0 Z"/>
</g>
<line x1="108.9" y1="793.37" x2="115.2" y2="793.37" stroke="#000" stroke-width="2.1" stroke-linecap="butt"/>
<line x1="102.7" y1="752.5" x2="115.2" y2="752.5" stroke="#000" stroke-width="2.1" stroke-linecap="butt"/>
<line x1="108.9" y1="711.63" x2="115.2" y2="711.63" stroke="#000" stroke-width="2.1" stroke-linecap="butt"/>
<line x1="102.7" y1="670.77" x2="115.2" y2="670.77" stroke="#000" stroke-width="2.1" stroke-linecap="butt"/>
<line x1="108.9" y1="629.9" x2="115.2" y2="629.9" stroke="#000" stroke-width="2.1" stroke-linecap="butt"/>
<line x1="102.7" y1="589.04" x2="115.2" y2="589.04" stroke="#000" stroke-width="2.1" stroke-linecap="butt"/>
<line x1="108.9" y1="548.17" x2="115.2" y2="548.17" stroke="#000" stroke-width="2.1" stroke-linecap="butt"/>
<line x1="102.7" y1="507.31" x2="115.2" y2="507.31" stroke="#000" stroke-width="2.1" stroke-linecap="butt"/>
<line x1="108.9" y1="466.44" x2="115.2" y2="466.44" stroke="#000" stroke-width="2.1" stroke-linecap="butt"/>
<line x1="115.2" y1="793" x2="115.2" y2="805.5" stroke="#000" stroke-width="2.1" stroke-linecap="butt"/>
<line x1="169.69" y1="793" x2="169.69" y2="799.3" stroke="#000" stroke-width="2.1" stroke-linecap="butt"/>
<line x1="201.56" y1="793" x2="201.56" y2="799.3" stroke="#000" stroke-width="2.1" stroke-linecap="butt"/>
<line x1="224.17" y1="793" x2="224.17" y2="799.3" stroke="#000" stroke-width="2.1" stroke-linecap="butt"/>
<line x1="241.71" y1="793" x2="241.71" y2="799.3" stroke="#000" stroke-width="2.1" stroke-linecap="butt"/>
<line x1="256.05" y1="793" x2="256.05" y2="799.3" stroke="#000" stroke-width="2.1" stroke-linecap="butt"/>
<line x1="268.16" y1="793" x2="268.16" y2="799.3" stroke="#000" stroke-width="2.1" stroke-linecap="butt"/>
<line x1="278.66" y1="793" x2="278.66" y2="799.3" stroke="#000" stroke-width="2.1" stroke-linecap="butt"/>
<line x1="287.92" y1="793" x2="287.92" y2="799.3" stroke="#000" stroke-width="2.1" stroke-linecap="butt"/>
<line x1="296.2" y1="793" x2="296.2" y2="805.5" stroke="#000" stroke-width="2.1" stroke-linecap="butt"/>
<line x1="350.69" y1="793" x2="350.69" y2="799.3" stroke="#000" stroke-width="2.1" stroke-linecap="butt"/>
<line x1="382.56" y1="793" x2="382.56" y2="799.3" stroke="#000" stroke-width="2.1" stroke-linecap="butt"/>
<line x1="405.17" y1="793" x2="405.17" y2="799.3" stroke="#000" stroke-width="2.1" stroke-linecap="butt"/>
<line x1="422.71" y1="793" x2="422.71" y2="799.3" stroke="#000" stroke-width="2.1" stroke-linecap="butt"/>
<line x1="437.05" y1="793" x2="437.05" y2="799.3" stroke="#000" stroke-width="2.1" stroke-linecap="butt"/>
<line x1="449.16" y1="793" x2="449.16" y2="799.3" stroke="#000" stroke-width="2.1" stroke-linecap="butt"/>
<line x1="459.66" y1="793" x2="459.66" y2="799.3" stroke="#000" stroke-width="2.1" stroke-linecap="butt"/>
<line x1="468.92" y1="793" x2="468.92" y2="799.3" stroke="#000" stroke-width="2.1" stroke-linecap="butt"/>
<line x1="477.2" y1="793" x2="477.2" y2="805.5" stroke="#000" stroke-width="2.1" stroke-linecap="butt"/>
<line x1="531.69" y1="793" x2="531.69" y2="799.3" stroke="#000" stroke-width="2.1" stroke-linecap="butt"/>
<line x1="563.56" y1="793" x2="563.56" y2="799.3" stroke="#000" stroke-width="2.1" stroke-linecap="butt"/>
<line x1="586.17" y1="793" x2="586.17" y2="799.3" stroke="#000" stroke-width="2.1" stroke-linecap="butt"/>
<line x1="603.71" y1="793" x2="603.71" y2="799.3" stroke="#000" stroke-width="2.1" stroke-linecap="butt"/>
<line x1="618.05" y1="793" x2="618.05" y2="799.3" stroke="#000" stroke-width="2.1" stroke-linecap="butt"/>
<line x1="630.16" y1="793" x2="630.16" y2="799.3" stroke="#000" stroke-width="2.1" stroke-linecap="butt"/>
<line x1="640.66" y1="793" x2="640.66" y2="799.3" stroke="#000" stroke-width="2.1" stroke-linecap="butt"/>
<line x1="649.92" y1="793" x2="649.92" y2="799.3" stroke="#000" stroke-width="2.1" stroke-linecap="butt"/>
<line x1="658.2" y1="793" x2="658.2" y2="805.5" stroke="#000" stroke-width="2.1" stroke-linecap="butt"/>
<line x1="712.69" y1="793" x2="712.69" y2="799.3" stroke="#000" stroke-width="2.1" stroke-linecap="butt"/>
<line x1="744.56" y1="793" x2="744.56" y2="799.3" stroke="#000" stroke-width="2.1" stroke-linecap="butt"/>
<line x1="767.17" y1="793" x2="767.17" y2="799.3" stroke="#000" stroke-width="2.1" stroke-linecap="butt"/>
<line x1="784.71" y1="793" x2="784.71" y2="799.3" stroke="#000" stroke-width="2.1" stroke-linecap="butt"/>
<line x1="799.05" y1="793" x2="799.05" y2="799.3" stroke="#000" stroke-width="2.1" stroke-linecap="butt"/>
<line x1="811.16" y1="793" x2="811.16" y2="799.3" stroke="#000" stroke-width="2.1" stroke-linecap="butt"/>
<line x1="821.66" y1="793" x2="821.66" y2="799.3" stroke="#000" stroke-width="2.1" stroke-linecap="butt"/>
<line x1="830.92" y1="793" x2="830.92" y2="799.3" stroke="#000" stroke-width="2.1" stroke-linecap="butt"/>
<line x1="839.2" y1="793" x2="839.2" y2="805.5" stroke="#000" stroke-width="2.1" stroke-linecap="butt"/>
<line x1="893.69" y1="793" x2="893.69" y2="799.3" stroke="#000" stroke-width="2.1" stroke-linecap="butt"/>
<line x1="925.56" y1="793" x2="925.56" y2="799.3" stroke="#000" stroke-width="2.1" stroke-linecap="butt"/>
<line x1="948.17" y1="793" x2="948.17" y2="799.3" stroke="#000" stroke-width="2.1" stroke-linecap="butt"/>
<line x1="965.71" y1="793" x2="965.71" y2="799.3" stroke="#000" stroke-width="2.1" stroke-linecap="butt"/>
<line x1="980.05" y1="793" x2="980.05" y2="799.3" stroke="#000" stroke-width="2.1" stroke-linecap="butt"/>
<line x1="992.16" y1="793" x2="992.16" y2="799.3" stroke="#000" stroke-width="2.1" stroke-linecap="butt"/>
<line x1="1002.66" y1="793" x2="1002.66" y2="799.3" stroke="#000" stroke-width="2.1" stroke-linecap="butt"/>
<line x1="1011.92" y1="793" x2="1011.92" y2="799.3" stroke="#000" stroke-width="2.1" stroke-linecap="butt"/>
<line x1="1020.2" y1="793" x2="1020.2" y2="805.5" stroke="#000" stroke-width="2.1" stroke-linecap="butt"/>
<text transform="translate(93.2,763.4) scale(1,1.05)" font-size="34.5" text-anchor="end" >0</text>
<text transform="translate(93.2,681.67) scale(1,1.05)" font-size="34.5" text-anchor="end" >10</text>
<text transform="translate(93.2,599.94) scale(1,1.05)" font-size="34.5" text-anchor="end" >20</text>
<text transform="translate(93.2,518.21) scale(1,1.05)" font-size="34.5" text-anchor="end" >30</text>
<text transform="translate(114.2,843.1) scale(1,1.05)" font-size="34.5" text-anchor="middle" >0.001</text>
<text transform="translate(295.2,843.1) scale(1,1.05)" font-size="34.5" text-anchor="middle" >0.01</text>
<text transform="translate(476.2,843.1) scale(1,1.05)" font-size="34.5" text-anchor="middle" >0.1</text>
<text transform="translate(657.2,843.1) scale(1,1.05)" font-size="34.5" text-anchor="middle" >1</text>
<text transform="translate(838.2,843.1) scale(1,1.05)" font-size="34.5" text-anchor="middle" >10</text>
<text transform="translate(1019.2,843.1) scale(1,1.05)" font-size="34.5" text-anchor="middle" >100</text>
<text x="0" y="453.6" font-size="44" text-anchor="start" >(b)</text>
<text x="417.9" y="894.4" font-size="41.5" text-anchor="start" >Driving frequency</text>
<text transform="translate(41.2,761.2) rotate(-90)" font-size="41.5">Signal response</text>
<line x1="390.5" y1="517.7" x2="471.4" y2="517.7" stroke="#ea5d62" stroke-width="3.0" stroke-linecap="butt"/>
<text x="479" y="527.8" font-size="35" text-anchor="start" >Linear response results</text>
<rect x="815.3" y="512" width="13.2" height="13.2" fill="none" stroke="#2a2a2a" stroke-width="2.2"/>
<circle cx="821.5" cy="570" r="7.6" fill="none" stroke="#ea5d62" stroke-width="2.2"/>
<polygon points="821.5,611.4 831.1,627.4 811.9,627.4" fill="none" stroke="#1f5090" stroke-width="2.2" stroke-linejoin="miter"/>
<line x1="668.5" y1="686.7" x2="688.9" y2="686.7" stroke="#c96a2c" stroke-width="2.0" stroke-linecap="butt"/>
<line x1="678.7" y1="676.5" x2="678.7" y2="696.9" stroke="#c96a2c" stroke-width="2.0" stroke-linecap="butt"/>
<text x="874.57" y="532.5" font-size="37.5" text-anchor="start" >τ</text>
<rect x="901.4" y="514.3" width="20.4" height="1.9"/>
<rect x="901.4" y="520" width="20.4" height="1.9"/>
<text x="921.88" y="531.3" font-size="37.5" text-anchor="start" >0.1</text>
<text x="874.57" y="584" font-size="37.5" text-anchor="start" >τ</text>
<rect x="901.4" y="565.8" width="20.4" height="1.9"/>
<rect x="901.4" y="571.5" width="20.4" height="1.9"/>
<text x="921.88" y="582.8" font-size="37.5" text-anchor="start" >0.2</text>
<text x="874.57" y="635.5" font-size="37.5" text-anchor="start" >τ</text>
<rect x="901.4" y="617.3" width="20.4" height="1.9"/>
<rect x="901.4" y="623" width="20.4" height="1.9"/>
<text x="921.88" y="634.3" font-size="37.5" text-anchor="start" >0.3</text>
<text x="718" y="698.2" font-size="35.3" text-anchor="start" >Gaussian white noise</text>
<rect x="203.6" y="642.4" width="190.79999999999998" height="107.39999999999998" fill="#fff" stroke="none"/>
<polyline points="203.6,671.98 205.1,672.22 206.6,672.46 208.1,672.72 209.6,672.98 211.1,673.24 212.6,673.51 214.1,673.79 215.6,674.07 217.1,674.36 218.6,674.66 220.1,674.97 221.6,675.28 223.1,675.59 224.6,675.92 226.1,676.25 227.6,676.59 229.1,676.94 230.6,677.29 232.1,677.65 233.6,678.02 235.1,678.4 236.6,678.78 238.1,679.17 239.6,679.57 241.1,679.98 242.6,680.39 244.1,680.81 245.6,681.24 247.1,681.68 248.6,682.13 250.1,682.58 251.6,683.04 253.1,683.51 254.6,683.99 256.1,684.47 257.6,684.96 259.1,685.46 260.6,685.97 262.1,686.48 263.6,687.01 265.1,687.53 266.6,688.07 268.1,688.61 269.6,689.16 271.1,689.72 272.6,690.28 274.1,690.85 275.6,691.43 277.1,692.01 278.6,692.6 280.1,693.2 281.6,693.8 283.1,694.4 284.6,695.01 286.1,695.63 287.6,696.25 289.1,696.88 290.6,697.5 292.1,698.14 293.6,698.78 295.1,699.42 296.6,700.06 298.1,700.71 299.6,701.36 301.1,702.01 302.6,702.66 304.1,703.32 305.6,703.98 307.1,704.64 308.6,705.3 310.1,705.96 311.6,706.62 313.1,707.28 314.6,707.94 316.1,708.6 317.6,709.26 319.1,709.91 320.6,710.57 322.1,711.22 323.6,711.88 325.1,712.52 326.6,713.17 328.1,713.82 329.6,714.46 331.1,715.09 332.6,715.73 334.1,716.35 335.6,716.98 337.1,717.6 338.6,718.21 340.1,718.82 341.6,719.43 343.1,720.03 344.6,720.62 346.1,721.21 347.6,721.79 349.1,722.37 350.6,722.94 352.1,723.5 353.6,724.06 355.1,724.6 356.6,725.15 358.1,725.68 359.6,726.21 361.1,726.73 362.6,727.24 364.1,727.75 365.6,728.25 367.1,728.74 368.6,729.22 370.1,729.7 371.6,730.16 373.1,730.62 374.6,731.08 376.1,731.52 377.6,731.96 379.1,732.39 380.6,732.81 382.1,733.22 383.6,733.63 385.1,734.03 386.6,734.42 388.1,734.8 389.6,735.17 391.1,735.54 392.6,735.9 394.1,736.25" fill="none" stroke="#c96a2c" stroke-width="1.3" stroke-linejoin="round" stroke-linecap="butt"/>
<polyline points="203.6,650.96 205.1,651.57 206.6,652.19 208.1,652.83 209.6,653.47 211.1,654.12 212.6,654.79 214.1,655.46 215.6,656.15 217.1,656.85 218.6,657.55 220.1,658.27 221.6,659 223.1,659.74 224.6,660.49 226.1,661.25 227.6,662.03 229.1,662.81 230.6,663.6 232.1,664.4 233.6,665.21 235.1,666.03 236.6,666.86 238.1,667.69 239.6,668.54 241.1,669.39 242.6,670.25 244.1,671.12 245.6,672 247.1,672.88 248.6,673.77 250.1,674.67 251.6,675.57 253.1,676.48 254.6,677.39 256.1,678.31 257.6,679.23 259.1,680.16 260.6,681.09 262.1,682.02 263.6,682.96 265.1,683.9 266.6,684.84 268.1,685.78 269.6,686.72 271.1,687.67 272.6,688.61 274.1,689.55 275.6,690.5 277.1,691.44 278.6,692.38 280.1,693.32 281.6,694.25 283.1,695.19 284.6,696.12 286.1,697.04 287.6,697.96 289.1,698.88 290.6,699.79 292.1,700.7 293.6,701.6 295.1,702.5 296.6,703.38 298.1,704.27 299.6,705.14 301.1,706.01 302.6,706.87 304.1,707.72 305.6,708.56 307.1,709.4 308.6,710.23 310.1,711.04 311.6,711.85 313.1,712.65 314.6,713.44 316.1,714.22 317.6,714.99 319.1,715.75 320.6,716.5 322.1,717.23 323.6,717.96 325.1,718.68 326.6,719.39 328.1,720.08 329.6,720.76 331.1,721.44 332.6,722.1 334.1,722.75 335.6,723.39 337.1,724.02 338.6,724.64 340.1,725.25 341.6,725.84 343.1,726.43 344.6,727 346.1,727.56 347.6,728.11 349.1,728.66 350.6,729.19 352.1,729.71 353.6,730.21 355.1,730.71 356.6,731.2 358.1,731.68 359.6,732.15 361.1,732.6 362.6,733.05 364.1,733.49 365.6,733.92 367.1,734.33 368.6,734.74 370.1,735.14 371.6,735.53 373.1,735.91 374.6,736.29 376.1,736.65 377.6,737.01 379.1,737.35 380.6,737.69 382.1,738.02 383.6,738.34 385.1,738.65 386.6,738.96 388.1,739.26 389.6,739.55 391.1,739.83 392.6,740.11 394.1,740.38" fill="none" stroke="#1f5090" stroke-width="1.3" stroke-linejoin="round" stroke-linecap="butt"/>
<line x1="221.5" y1="676.34" x2="231.5" y2="676.34" stroke="#c96a2c" stroke-width="1.4" stroke-linecap="butt"/>
<line x1="226.5" y1="671.34" x2="226.5" y2="681.34" stroke="#c96a2c" stroke-width="1.4" stroke-linecap="butt"/>
<polygon points="226.5,657.06 231.9,665.86 221.1,665.86" fill="none" stroke="#1f5090" stroke-width="1.5" stroke-linejoin="miter"/>
<line x1="266.7" y1="689.95" x2="276.7" y2="689.95" stroke="#c96a2c" stroke-width="1.4" stroke-linecap="butt"/>
<line x1="271.7" y1="684.95" x2="271.7" y2="694.95" stroke="#c96a2c" stroke-width="1.4" stroke-linecap="butt"/>
<polygon points="271.7,683.64 277.1,692.44 266.3,692.44" fill="none" stroke="#1f5090" stroke-width="1.5" stroke-linejoin="miter"/>
<line x1="311.9" y1="708.95" x2="321.9" y2="708.95" stroke="#c96a2c" stroke-width="1.4" stroke-linecap="butt"/>
<line x1="316.9" y1="703.95" x2="316.9" y2="713.95" stroke="#c96a2c" stroke-width="1.4" stroke-linecap="butt"/>
<polygon points="316.9,710.23 322.3,719.03 311.5,719.03" fill="none" stroke="#1f5090" stroke-width="1.5" stroke-linejoin="miter"/>
<line x1="357.1" y1="727.07" x2="367.1" y2="727.07" stroke="#c96a2c" stroke-width="1.4" stroke-linecap="butt"/>
<line x1="362.1" y1="722.07" x2="362.1" y2="732.07" stroke="#c96a2c" stroke-width="1.4" stroke-linecap="butt"/>
<polygon points="362.1,728.5 367.5,737.3 356.7,737.3" fill="none" stroke="#1f5090" stroke-width="1.5" stroke-linejoin="miter"/>
<rect x="203.6" y="642.4" width="190.8" height="107.4" fill="none" stroke="#000" stroke-width="1.3"/>
<line x1="203.6" y1="696.1" x2="206.6" y2="696.1" stroke="#000" stroke-width="1.2" stroke-linecap="butt"/>
<line x1="271.7" y1="749.8" x2="271.7" y2="752.3" stroke="#000" stroke-width="1.2" stroke-linecap="butt"/>
<line x1="339.73" y1="749.8" x2="339.73" y2="752.3" stroke="#000" stroke-width="1.2" stroke-linecap="butt"/>
<line x1="379.53" y1="749.8" x2="379.53" y2="752.3" stroke="#000" stroke-width="1.2" stroke-linecap="butt"/>
<text x="198.5" y="649.4" font-size="25" text-anchor="end" >20</text>
<text x="198.5" y="756" font-size="25" text-anchor="end" >0</text>
<text x="270.3" y="773.2" font-size="25" text-anchor="middle" >0.1</text>
<text x="339.03" y="773.2" font-size="25" text-anchor="middle" >0.2</text>
<text x="378.53" y="773.2" font-size="25" text-anchor="middle" >0.3</text>
<text x="290.4" y="780.4" font-size="30" text-anchor="start" font-style="italic" >ω</text>
<text transform="translate(177.3,698.2) rotate(-90) scale(1.26,1)" font-size="29.4" font-style="italic">η</text>
<line x1="286.9" y1="666.2" x2="334.3" y2="666.2" stroke="#c96a2c" stroke-width="1.3" stroke-linecap="butt"/>
<line x1="305.4" y1="666.2" x2="315.2" y2="666.2" stroke="#c96a2c" stroke-width="1.4" stroke-linecap="butt"/>
<line x1="310.3" y1="661.3" x2="310.3" y2="671.1" stroke="#c96a2c" stroke-width="1.4" stroke-linecap="butt"/>
<line x1="286.9" y1="694.6" x2="334.3" y2="694.6" stroke="#1f5090" stroke-width="1.3" stroke-linecap="butt"/>
<polygon points="310.3,688.9 315.7,697.7 304.9,697.7" fill="none" stroke="#1f5090" stroke-width="1.5" stroke-linejoin="miter"/>
<text x="338.95" y="673" font-size="20.5" text-anchor="start" >τ</text>
<rect x="353.13" y="663.65" width="11.15" height="1.04"/>
<rect x="353.13" y="667.04" width="11.15" height="1.04"/>
<text x="364.32" y="673" font-size="20.5" text-anchor="start" >0.0</text>
<text x="338.95" y="700.9" font-size="20.5" text-anchor="start" >τ</text>
<rect x="353.13" y="691.55" width="11.15" height="1.04"/>
<rect x="353.13" y="694.94" width="11.15" height="1.04"/>
<text x="364.32" y="700.9" font-size="20.5" text-anchor="start" >0.3</text>
</svg></body></html>
